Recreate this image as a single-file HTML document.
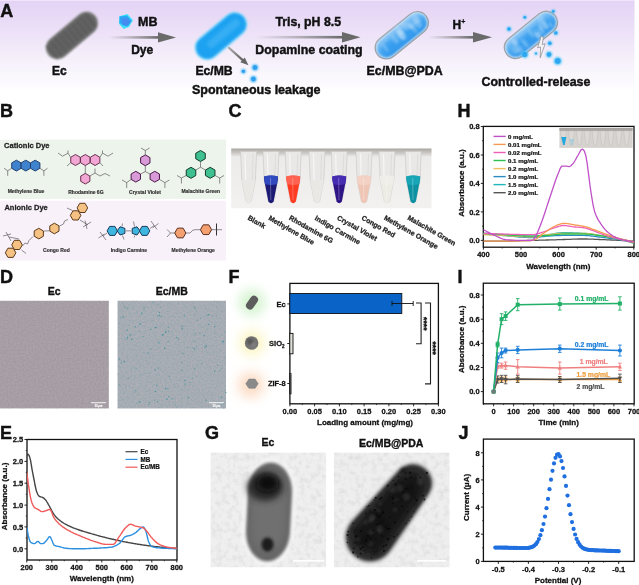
<!DOCTYPE html>
<html><head><meta charset="utf-8"><title>Figure</title>
<style>html,body{margin:0;padding:0;background:#fff;} svg{display:block;}</style></head>
<body><svg width="639" height="585" viewBox="0 0 639 585" font-family="'Liberation Sans', Arial, sans-serif" font-weight="bold">
<defs>
<linearGradient id="gA" x1="0" y1="0" x2="0" y2="1">
 <stop offset="0" stop-color="#e4d3f5"/><stop offset="0.3" stop-color="#ebdff7"/><stop offset="0.65" stop-color="#f5effa"/><stop offset="1" stop-color="#fefdff"/>
</linearGradient>
<linearGradient id="arr" x1="0" y1="0" x2="1" y2="0">
 <stop offset="0" stop-color="#8a8a8a" stop-opacity="0"/><stop offset="1" stop-color="#6a6a6a"/>
</linearGradient>
<linearGradient id="rodPDA" x1="0" y1="0" x2="0" y2="1">
 <stop offset="0" stop-color="#8ec8f6"/><stop offset="0.5" stop-color="#4aa8f0"/><stop offset="1" stop-color="#2f94ea"/>
</linearGradient>
<filter id="blur05" x="-20%" y="-20%" width="140%" height="140%"><feGaussianBlur stdDeviation="0.4"/></filter>
<filter id="blur1" x="-60%" y="-60%" width="220%" height="220%"><feGaussianBlur stdDeviation="0.8"/></filter>
<filter id="blur2" x="-100%" y="-100%" width="300%" height="300%"><feGaussianBlur stdDeviation="1.5"/></filter>
<filter id="blur4" x="-50%" y="-50%" width="200%" height="200%"><feGaussianBlur stdDeviation="4"/></filter>
<filter id="glow" x="-100%" y="-100%" width="300%" height="300%"><feGaussianBlur stdDeviation="6"/></filter>
<filter id="noiseD" x="0" y="0" width="100%" height="100%">
 <feTurbulence type="fractalNoise" baseFrequency="0.9" numOctaves="2" seed="3" result="n"/>
 <feColorMatrix type="matrix" values="0 0 0 0 0.5  0 0 0 0 0.5  0 0 0 0 0.5  0.35 0 0 0 -0.05" in="n"/>
 <feComposite in2="SourceGraphic" operator="in"/>
</filter>
<filter id="temblur" x="-100%" y="-100%" width="300%" height="300%"><feGaussianBlur stdDeviation="3"/></filter>
<clipPath id="clipH"><rect x="483.3" y="126.4" width="150.7" height="120.8"/></clipPath>
<clipPath id="clipE"><rect x="27" y="439.5" width="150" height="120"/></clipPath>
<clipPath id="clipG1"><rect x="210.4" y="452.4" width="116" height="115"/></clipPath>
<clipPath id="clipG2"><rect x="333.7" y="452.4" width="116" height="115"/></clipPath>
</defs>
<rect x="0" y="0" width="639" height="585" fill="#ffffff"/>
<rect x="0" y="1" width="634.5" height="88.5" fill="url(#gA)"/>
<rect x="0" y="0" width="634.5" height="1" fill="#efe4f9"/>
<text x="0.3" y="16.8" font-size="18" fill="#111" stroke="#111" stroke-width="0.45" text-anchor="start" >A</text>
<rect x="41.4" y="23.9" width="61" height="23" rx="11.5" ry="11.5" fill="#858585" filter="url(#blur1)" opacity="1" transform="rotate(-40 71.9 35.4)"/>
<rect x="42.9" y="25.4" width="58" height="20" rx="10.0" ry="10.0" fill="#646464" filter="url(#blur1)" opacity="1" transform="rotate(-40 71.9 35.4)"/>
<g transform="rotate(-40 71.9 35.4)" opacity="0.35" filter="url(#blur1)"><rect x="45.0" y="26.5" width="2.2" height="18" rx="1" fill="#4a4a4a"/><rect x="50.5" y="26.5" width="2.2" height="18" rx="1" fill="#4a4a4a"/><rect x="56.0" y="26.5" width="2.2" height="18" rx="1" fill="#4a4a4a"/><rect x="61.5" y="26.5" width="2.2" height="18" rx="1" fill="#4a4a4a"/><rect x="67.0" y="26.5" width="2.2" height="18" rx="1" fill="#4a4a4a"/><rect x="72.5" y="26.5" width="2.2" height="18" rx="1" fill="#4a4a4a"/><rect x="78.0" y="26.5" width="2.2" height="18" rx="1" fill="#4a4a4a"/><rect x="83.5" y="26.5" width="2.2" height="18" rx="1" fill="#4a4a4a"/><rect x="89.0" y="26.5" width="2.2" height="18" rx="1" fill="#4a4a4a"/><rect x="94.5" y="26.5" width="2.2" height="18" rx="1" fill="#4a4a4a"/></g>
<text x="52.0" y="75.0" font-size="12" fill="#111" stroke="#111" stroke-width="0.42" text-anchor="start" >Ec</text>
<g filter="url(#blur05)"><polygon points="119.3,16.2 127.3,14.1 132.9,20 129.2,26.8 123.7,28.9 119,23.7" fill="#3ee0f8"/>
<polygon points="119.6,16.6 127,15.6 131.8,21 127.6,26.4 122.6,25.2 119.5,23" fill="#29a8f4"/>
<polygon points="121.5,18.5 127.5,18 130.5,22 126.5,26 122.5,24.5" fill="#4a86ee" opacity="0.85"/></g>
<text x="138.0" y="26.3" font-size="12.5" fill="#111" stroke="#111" stroke-width="0.44" text-anchor="start" >MB</text>
<rect x="108" y="36.1" width="50" height="2.6" fill="url(#arr)"/>
<polygon points="158,32.199999999999996 176,37.4 158,42.6" fill="#6a6a6a"/>
<text x="131.2" y="53.8" font-size="12" fill="#111" stroke="#111" stroke-width="0.42" text-anchor="start" >Dye</text>
<rect x="190.5" y="23.5" width="61" height="25" rx="12.5" ry="12.5" fill="#9fe0fb" filter="url(#blur1)" opacity="1" transform="rotate(-40 221 36)"/>
<rect x="191.8" y="24.8" width="58.5" height="22.5" rx="11.25" ry="11.25" fill="#1ca2f1" filter="url(#blur1)" opacity="1" transform="rotate(-40 221 36)"/>
<rect x="203.5" y="29.5" width="40" height="8" rx="4.0" ry="4.0" fill="#46b6f6" filter="url(#blur2)" opacity="0.6" transform="rotate(-40 223.5 33.5)"/>
<linearGradient id="arr2" x1="228" y1="47" x2="244" y2="61" gradientUnits="userSpaceOnUse"><stop offset="0" stop-color="#b0b0b0"/><stop offset="1" stop-color="#5a5a5a"/></linearGradient>
<line x1="228.3" y1="47.3" x2="243" y2="60.4" stroke="url(#arr2)" stroke-width="2.2"/>
<polygon points="248.5,65.2 240.3,62.3 244.7,57.4" fill="#666"/>
<circle cx="243.4" cy="71.3" r="2.3" fill="#31b0f4" filter="url(#blur1)"/>
<circle cx="243.4" cy="71.3" r="1.6" fill="#2f9ef0"/>
<circle cx="255" cy="67.5" r="3.1" fill="#31b0f4" filter="url(#blur1)"/>
<circle cx="255" cy="67.5" r="2.2" fill="#2f9ef0"/>
<circle cx="253.4" cy="79" r="3.1" fill="#31b0f4" filter="url(#blur1)"/>
<circle cx="253.4" cy="79" r="2.2" fill="#2f9ef0"/>
<text x="195.4" y="75.0" font-size="12.2" fill="#111" stroke="#111" stroke-width="0.43" text-anchor="start" >Ec/MB</text>
<text x="192.0" y="93.8" font-size="12.5" fill="#111" stroke="#111" stroke-width="0.44" text-anchor="start" >Spontaneous leakage</text>
<text x="275.4" y="26.3" font-size="12.3" fill="#111" stroke="#111" stroke-width="0.43" text-anchor="start" >Tris, pH 8.5</text>
<rect x="255" y="35.9" width="87" height="2.6" fill="url(#arr)"/>
<polygon points="342,32.0 360.5,37.2 342,42.400000000000006" fill="#6a6a6a"/>
<text x="255.3" y="53.6" font-size="12.4" fill="#111" stroke="#111" stroke-width="0.43" text-anchor="start" >Dopamine coating</text>
<g transform="rotate(-39 401.8 35.3)">
<rect x="370.8" y="24.099999999999998" width="62" height="22.4" rx="11.2" fill="#d0e4f6" stroke="#a3a3a3" stroke-width="1.3"/>
<rect x="372.3" y="25.599999999999998" width="59" height="19.4" rx="9.7" fill="url(#rodPDA)" filter="url(#blur1)"/>
<rect x="376.8" y="31.299999999999997" width="48" height="9" rx="4.5" fill="#2a98ee" opacity="0.5" filter="url(#blur2)"/>
<ellipse cx="401.7" cy="34.4" rx="3.1" ry="5.4" fill="#bfe0fa" opacity="0.35" filter="url(#blur1)"/>
<ellipse cx="415.3" cy="34.0" rx="3.4" ry="3.6" fill="#bfe0fa" opacity="0.35" filter="url(#blur1)"/>
<ellipse cx="415.2" cy="37.3" rx="1.9" ry="5.8" fill="#bfe0fa" opacity="0.35" filter="url(#blur1)"/>
<ellipse cx="409.9" cy="30.2" rx="3.0" ry="5.0" fill="#bfe0fa" opacity="0.35" filter="url(#blur1)"/>
<ellipse cx="403.0" cy="29.4" rx="2.8" ry="5.9" fill="#bfe0fa" opacity="0.35" filter="url(#blur1)"/>
<ellipse cx="420.9" cy="32.9" rx="2.8" ry="3.5" fill="#bfe0fa" opacity="0.35" filter="url(#blur1)"/>
<ellipse cx="402.9" cy="32.1" rx="2.5" ry="3.5" fill="#bfe0fa" opacity="0.35" filter="url(#blur1)"/>
<ellipse cx="400.3" cy="34.0" rx="2.0" ry="5.6" fill="#bfe0fa" opacity="0.35" filter="url(#blur1)"/>
<ellipse cx="421.6" cy="36.4" rx="3.1" ry="4.9" fill="#bfe0fa" opacity="0.35" filter="url(#blur1)"/>
<ellipse cx="413.6" cy="32.3" rx="2.0" ry="3.9" fill="#bfe0fa" opacity="0.35" filter="url(#blur1)"/>
<ellipse cx="402.1" cy="35.5" rx="3.3" ry="5.4" fill="#bfe0fa" opacity="0.35" filter="url(#blur1)"/>
<ellipse cx="394.2" cy="33.8" rx="2.9" ry="5.2" fill="#bfe0fa" opacity="0.35" filter="url(#blur1)"/>
<ellipse cx="381.2" cy="34.4" rx="1.5" ry="5.1" fill="#bfe0fa" opacity="0.35" filter="url(#blur1)"/>
<ellipse cx="423.8" cy="31.4" rx="2.6" ry="5.8" fill="#bfe0fa" opacity="0.35" filter="url(#blur1)"/>
</g>
<text x="366.6" y="75.0" font-size="12.4" fill="#111" stroke="#111" stroke-width="0.43" text-anchor="start" >Ec/MB@PDA</text>
<text x="452.4" y="29.0" font-size="12" fill="#111" stroke="#111" stroke-width="0.42" text-anchor="start" >H</text>
<text x="461.3" y="24.0" font-size="7" fill="#111" stroke="#111" stroke-width="0.25" text-anchor="start" >+</text>
<rect x="428" y="36.0" width="45" height="2.6" fill="url(#arr)"/>
<polygon points="473,32.099999999999994 492,37.3 473,42.5" fill="#6a6a6a"/>
<g transform="rotate(-39 530.9 34.9)">
<rect x="499.9" y="23.7" width="62" height="22.4" rx="11.2" fill="#d0e4f6" stroke="#a3a3a3" stroke-width="1.3"/>
<rect x="501.4" y="25.2" width="59" height="19.4" rx="9.7" fill="url(#rodPDA)" filter="url(#blur1)"/>
<rect x="505.9" y="30.9" width="48" height="9" rx="4.5" fill="#2a98ee" opacity="0.5" filter="url(#blur2)"/>
<ellipse cx="548.3" cy="30.2" rx="3.1" ry="5.5" fill="#bfe0fa" opacity="0.35" filter="url(#blur1)"/>
<ellipse cx="544.3" cy="34.8" rx="2.6" ry="4.2" fill="#bfe0fa" opacity="0.35" filter="url(#blur1)"/>
<ellipse cx="509.4" cy="36.5" rx="3.3" ry="4.5" fill="#bfe0fa" opacity="0.35" filter="url(#blur1)"/>
<ellipse cx="521.0" cy="37.8" rx="2.1" ry="5.3" fill="#bfe0fa" opacity="0.35" filter="url(#blur1)"/>
<ellipse cx="552.7" cy="39.7" rx="1.5" ry="3.1" fill="#bfe0fa" opacity="0.35" filter="url(#blur1)"/>
<ellipse cx="514.0" cy="30.9" rx="2.3" ry="3.4" fill="#bfe0fa" opacity="0.35" filter="url(#blur1)"/>
<ellipse cx="547.7" cy="37.7" rx="1.9" ry="3.0" fill="#bfe0fa" opacity="0.35" filter="url(#blur1)"/>
<ellipse cx="548.6" cy="36.2" rx="1.9" ry="4.4" fill="#bfe0fa" opacity="0.35" filter="url(#blur1)"/>
<ellipse cx="535.9" cy="39.9" rx="2.5" ry="3.7" fill="#bfe0fa" opacity="0.35" filter="url(#blur1)"/>
<ellipse cx="513.2" cy="39.0" rx="3.0" ry="4.1" fill="#bfe0fa" opacity="0.35" filter="url(#blur1)"/>
<ellipse cx="536.9" cy="38.0" rx="3.2" ry="5.4" fill="#bfe0fa" opacity="0.35" filter="url(#blur1)"/>
<ellipse cx="542.1" cy="37.8" rx="2.1" ry="4.6" fill="#bfe0fa" opacity="0.35" filter="url(#blur1)"/>
<ellipse cx="532.0" cy="34.0" rx="2.0" ry="4.7" fill="#bfe0fa" opacity="0.35" filter="url(#blur1)"/>
<ellipse cx="513.3" cy="30.9" rx="2.6" ry="4.3" fill="#bfe0fa" opacity="0.35" filter="url(#blur1)"/>
</g>
<circle cx="509" cy="29" r="2.3" fill="#36c0f8" filter="url(#blur1)"/>
<circle cx="509" cy="29" r="1.7" fill="#2ea6f2"/>
<circle cx="524.8" cy="17.3" r="1.8" fill="#36c0f8" filter="url(#blur1)"/>
<circle cx="524.8" cy="17.3" r="1.4" fill="#2ea6f2"/>
<circle cx="553.3" cy="11.3" r="1.8" fill="#36c0f8" filter="url(#blur1)"/>
<circle cx="553.3" cy="11.3" r="1.4" fill="#2ea6f2"/>
<circle cx="555.8" cy="32.9" r="2.2" fill="#36c0f8" filter="url(#blur1)"/>
<circle cx="555.8" cy="32.9" r="1.7" fill="#2ea6f2"/>
<circle cx="549.8" cy="43.2" r="2.3" fill="#36c0f8" filter="url(#blur1)"/>
<circle cx="549.8" cy="43.2" r="1.7" fill="#2ea6f2"/>
<circle cx="536" cy="53.5" r="1.5" fill="#36c0f8" filter="url(#blur1)"/>
<circle cx="536" cy="53.5" r="1.1" fill="#2ea6f2"/>
<circle cx="549" cy="54.5" r="3" fill="#36c0f8" filter="url(#blur1)"/>
<circle cx="549" cy="54.5" r="2.2" fill="#2ea6f2"/>
<circle cx="557.7" cy="61" r="3.8" fill="#36c0f8" filter="url(#blur1)"/>
<circle cx="557.7" cy="61" r="2.8" fill="#2ea6f2"/>
<circle cx="524.8" cy="54.5" r="3.3" fill="#36c0f8" filter="url(#blur1)"/>
<circle cx="524.8" cy="54.5" r="2.5" fill="#2ea6f2"/>
<circle cx="536" cy="29.5" r="2" fill="none" stroke="#48a8f0" stroke-width="0.8"/>
<polygon points="541.2,36.2 537.6,47.8 540.6,46.9 540.2,57.8 545.2,43.6 542.2,44.6 543.4,37.2" fill="#f4f4f8" stroke="#8a8a8a" stroke-width="0.7" stroke-linejoin="round"/>
<text x="481.6" y="86.4" font-size="12.4" fill="#111" stroke="#111" stroke-width="0.43" text-anchor="start" >Controlled-release</text>
<text x="0.0" y="117.0" font-size="18" fill="#111" stroke="#111" stroke-width="0.45" text-anchor="start" >B</text>
<rect x="0" y="139.6" width="226" height="59.4" fill="#edf4eb"/>
<rect x="0" y="200.8" width="226" height="59.8" fill="#f9f1fa"/>
<text x="4.1" y="148.3" font-size="7.5" fill="#222" stroke="#222" stroke-width="0.26" text-anchor="start" >Cationic Dye</text>
<text x="4.4" y="210.4" font-size="7.5" fill="#222" stroke="#222" stroke-width="0.26" text-anchor="start" >Anionic Dye</text>
<polygon points="16.40,171.00 11.72,168.30 11.72,162.90 16.40,160.20 21.08,162.90 21.08,168.30" fill="#3f83cf" stroke="#1f3f6f" stroke-width="1.0" stroke-linejoin="round"/>
<polygon points="25.80,171.00 21.12,168.30 21.12,162.90 25.80,160.20 30.48,162.90 30.48,168.30" fill="#3f83cf" stroke="#1f3f6f" stroke-width="1.0" stroke-linejoin="round"/>
<polygon points="35.20,171.00 30.52,168.30 30.52,162.90 35.20,160.20 39.88,162.90 39.88,168.30" fill="#3f83cf" stroke="#1f3f6f" stroke-width="1.0" stroke-linejoin="round"/>
<polyline points="11.7,168.3 7.7,170.8" fill="none" stroke="#444" stroke-width="0.6"/>
<polyline points="7.7,170.8 4.1,168.3" fill="none" stroke="#444" stroke-width="0.6"/>
<polyline points="7.7,170.8 7.7,175.8" fill="none" stroke="#444" stroke-width="0.6"/>
<polyline points="39.9,168.3 43.9,170.8" fill="none" stroke="#444" stroke-width="0.6"/>
<polyline points="43.9,170.8 47.5,168.3" fill="none" stroke="#444" stroke-width="0.6"/>
<polyline points="43.9,170.8 43.9,175.8" fill="none" stroke="#444" stroke-width="0.6"/>
<text x="26.0" y="193.4" font-size="5" fill="#333" stroke="#333" stroke-width="0.18" text-anchor="middle" >Methylene Blue</text>
<polygon points="75.50,165.50 70.74,162.75 70.74,157.25 75.50,154.50 80.26,157.25 80.26,162.75" fill="#f2a6d4" stroke="#6a3050" stroke-width="1.0" stroke-linejoin="round"/>
<polygon points="85.30,165.50 80.54,162.75 80.54,157.25 85.30,154.50 90.06,157.25 90.06,162.75" fill="#f2a6d4" stroke="#6a3050" stroke-width="1.0" stroke-linejoin="round"/>
<polygon points="95.10,165.50 90.34,162.75 90.34,157.25 95.10,154.50 99.86,157.25 99.86,162.75" fill="#f2a6d4" stroke="#6a3050" stroke-width="1.0" stroke-linejoin="round"/>
<polygon points="85.30,184.00 80.71,181.35 80.71,176.05 85.30,173.40 89.89,176.05 89.89,181.35" fill="#f2a6d4" stroke="#6a3050" stroke-width="1.0" stroke-linejoin="round"/>
<polyline points="85.3,165.5 85.3,173.4" fill="none" stroke="#444" stroke-width="0.6"/>
<polyline points="70.7,157.3 68.0,153.2 62.5,156.2 58.0,153.0" fill="none" stroke="#444" stroke-width="0.6"/>
<polyline points="68.0,153.2 68.0,150.5" fill="none" stroke="#444" stroke-width="0.6"/>
<polyline points="99.9,157.3 102.5,153.2 108.0,156.2 113.0,153.0" fill="none" stroke="#444" stroke-width="0.6"/>
<polyline points="102.5,153.2 102.5,150.5" fill="none" stroke="#444" stroke-width="0.6"/>
<polyline points="70.7,162.7 67.0,166.0" fill="none" stroke="#444" stroke-width="0.6"/>
<polyline points="99.9,162.7 103.0,166.0" fill="none" stroke="#444" stroke-width="0.6"/>
<polyline points="89.9,176.0 95.0,173.0 95.0,168.5" fill="none" stroke="#444" stroke-width="0.6"/>
<polyline points="95.0,173.0 100.0,176.0 105.0,173.5 110.0,176.0" fill="none" stroke="#444" stroke-width="0.6"/>
<text x="85.9" y="193.5" font-size="5" fill="#333" stroke="#333" stroke-width="0.18" text-anchor="middle" >Rhodamine 6G</text>
<polygon points="145.30,165.70 140.62,163.00 140.62,157.60 145.30,154.90 149.98,157.60 149.98,163.00" fill="#d99ad8" stroke="#4a1a4a" stroke-width="1.0" stroke-linejoin="round"/>
<polygon points="135.80,182.10 131.12,179.40 131.12,174.00 135.80,171.30 140.48,174.00 140.48,179.40" fill="#d99ad8" stroke="#4a1a4a" stroke-width="1.0" stroke-linejoin="round"/>
<polygon points="154.80,182.10 150.12,179.40 150.12,174.00 154.80,171.30 159.48,174.00 159.48,179.40" fill="#d99ad8" stroke="#4a1a4a" stroke-width="1.0" stroke-linejoin="round"/>
<polyline points="145.3,165.7 145.3,171.6 140.5,174.0" fill="none" stroke="#444" stroke-width="0.6"/>
<polyline points="145.3,171.6 150.1,174.0" fill="none" stroke="#444" stroke-width="0.6"/>
<polyline points="145.3,154.9 145.3,150.5" fill="none" stroke="#444" stroke-width="0.6"/>
<polyline points="145.3,150.5 141.0,148.0" fill="none" stroke="#444" stroke-width="0.6"/>
<polyline points="145.3,150.5 149.6,148.0" fill="none" stroke="#444" stroke-width="0.6"/>
<polyline points="131.0,179.5 126.7,182.6 122.0,180.0" fill="none" stroke="#444" stroke-width="0.6"/>
<polyline points="126.7,182.6 126.7,188.0" fill="none" stroke="#444" stroke-width="0.6"/>
<polyline points="159.6,179.5 164.9,182.6 169.5,180.0" fill="none" stroke="#444" stroke-width="0.6"/>
<polyline points="164.9,182.6 164.9,188.0" fill="none" stroke="#444" stroke-width="0.6"/>
<text x="145.0" y="193.5" font-size="5" fill="#333" stroke="#333" stroke-width="0.18" text-anchor="middle" >Crystal Violet</text>
<polygon points="200.50,161.50 195.74,158.75 195.74,153.25 200.50,150.50 205.26,153.25 205.26,158.75" fill="#3fc090" stroke="#143a2a" stroke-width="1.0" stroke-linejoin="round"/>
<polygon points="191.00,178.30 186.24,175.55 186.24,170.05 191.00,167.30 195.76,170.05 195.76,175.55" fill="#3fc090" stroke="#143a2a" stroke-width="1.0" stroke-linejoin="round"/>
<polygon points="210.20,178.30 205.44,175.55 205.44,170.05 210.20,167.30 214.96,170.05 214.96,175.55" fill="#3fc090" stroke="#143a2a" stroke-width="1.0" stroke-linejoin="round"/>
<polyline points="200.5,161.5 200.5,167.2 195.8,170.0" fill="none" stroke="#444" stroke-width="0.6"/>
<polyline points="200.5,167.2 205.4,170.0" fill="none" stroke="#444" stroke-width="0.6"/>
<polyline points="186.2,175.5 181.4,178.0 177.0,175.5" fill="none" stroke="#444" stroke-width="0.6"/>
<polyline points="181.4,178.0 181.4,183.5" fill="none" stroke="#444" stroke-width="0.6"/>
<polyline points="215.0,175.5 219.7,178.0 224.0,175.5" fill="none" stroke="#444" stroke-width="0.6"/>
<polyline points="219.7,178.0 219.7,183.5" fill="none" stroke="#444" stroke-width="0.6"/>
<text x="200.7" y="193.3" font-size="5" fill="#333" stroke="#333" stroke-width="0.18" text-anchor="middle" >Malachite Green</text>
<polygon points="15.90,252.80 13.25,257.39 7.95,257.39 5.30,252.80 7.95,248.21 13.25,248.21" fill="#f6c283" stroke="#5a3a1a" stroke-width="1.0" stroke-linejoin="round"/>
<polygon points="19.65,249.49 14.35,249.49 11.70,244.90 14.35,240.31 19.65,240.31 22.30,244.90" fill="#f6c283" stroke="#5a3a1a" stroke-width="1.0" stroke-linejoin="round"/>
<polyline points="19.0,239.0 9.0,237.0" fill="none" stroke="#444" stroke-width="0.6"/>
<polyline points="6.0,232.0 11.0,241.0" fill="none" stroke="#444" stroke-width="0.6"/>
<polyline points="3.0,236.0 11.0,234.0" fill="none" stroke="#444" stroke-width="0.6"/>
<polyline points="22.5,246.0 25.0,243.0 27.5,244.0 29.0,240.5 33.0,236.5" fill="none" stroke="#444" stroke-width="0.6"/>
<polygon points="43.39,236.25 38.80,238.90 34.21,236.25 34.21,230.95 38.80,228.30 43.39,230.95" fill="#f6c283" stroke="#5a3a1a" stroke-width="1.0" stroke-linejoin="round"/>
<polyline points="43.9,231.0 49.3,230.8" fill="none" stroke="#444" stroke-width="0.6"/>
<polygon points="58.99,231.15 54.40,233.80 49.81,231.15 49.81,225.85 54.40,223.20 58.99,225.85" fill="#f6c283" stroke="#5a3a1a" stroke-width="1.0" stroke-linejoin="round"/>
<polyline points="59.5,226.0 63.5,224.0 64.5,221.0 68.0,219.5" fill="none" stroke="#444" stroke-width="0.6"/>
<polygon points="80.90,215.40 78.25,219.99 72.95,219.99 70.30,215.40 72.95,210.81 78.25,210.81" fill="#f6c283" stroke="#5a3a1a" stroke-width="1.0" stroke-linejoin="round"/>
<polygon points="85.05,212.49 79.75,212.49 77.10,207.90 79.75,203.31 85.05,203.31 87.70,207.90" fill="#f6c283" stroke="#5a3a1a" stroke-width="1.0" stroke-linejoin="round"/>
<polyline points="72.5,210.5 67.0,208.0" fill="none" stroke="#444" stroke-width="0.6"/>
<polyline points="21.5,250.0 26.0,253.5" fill="none" stroke="#444" stroke-width="0.6"/>
<polyline points="80.0,220.0 88.0,225.0" fill="none" stroke="#444" stroke-width="0.6"/>
<polyline points="85.0,220.5 87.0,229.0" fill="none" stroke="#444" stroke-width="0.6"/>
<polyline points="83.0,227.0 91.0,222.0" fill="none" stroke="#444" stroke-width="0.6"/>
<text x="56.4" y="251.7" font-size="5" fill="#333" stroke="#333" stroke-width="0.18" text-anchor="middle" >Congo Red</text>
<polygon points="117.50,230.90 114.90,235.40 109.70,235.40 107.10,230.90 109.70,226.40 114.90,226.40" fill="#3fb6e0" stroke="#1a3a5a" stroke-width="1.0" stroke-linejoin="round"/>
<polygon points="117.10,230.90 120.07,226.81 124.88,228.37 124.88,233.43 120.07,234.99" fill="#3fb6e0" stroke="#1a3a5a" stroke-width="1.0" stroke-linejoin="round"/>
<polygon points="140.00,230.90 137.03,234.99 132.22,233.43 132.22,228.37 137.03,226.81" fill="#3fb6e0" stroke="#1a3a5a" stroke-width="1.0" stroke-linejoin="round"/>
<polygon points="149.80,230.90 147.20,235.40 142.00,235.40 139.40,230.90 142.00,226.40 147.20,226.40" fill="#3fb6e0" stroke="#1a3a5a" stroke-width="1.0" stroke-linejoin="round"/>
<polyline points="125.7,230.9 131.4,230.9" fill="none" stroke="#444" stroke-width="0.6"/>
<polyline points="107.0,233.0 103.0,236.0" fill="none" stroke="#444" stroke-width="0.6"/>
<polyline points="100.0,232.0 106.0,240.0" fill="none" stroke="#444" stroke-width="0.6"/>
<polyline points="98.5,238.0 104.5,234.0" fill="none" stroke="#444" stroke-width="0.6"/>
<polyline points="150.0,228.5 154.0,225.5" fill="none" stroke="#444" stroke-width="0.6"/>
<polyline points="151.0,221.0 157.0,229.5" fill="none" stroke="#444" stroke-width="0.6"/>
<polyline points="152.5,228.0 158.5,223.5" fill="none" stroke="#444" stroke-width="0.6"/>
<polyline points="122.0,226.5 122.5,223.5" fill="none" stroke="#444" stroke-width="0.6"/>
<polyline points="122.5,235.5 124.0,239.5" fill="none" stroke="#444" stroke-width="0.6"/>
<polyline points="134.5,226.5 133.5,221.5" fill="none" stroke="#444" stroke-width="0.6"/>
<polyline points="135.0,235.5 134.0,237.5" fill="none" stroke="#444" stroke-width="0.6"/>
<text x="128.9" y="251.6" font-size="5" fill="#333" stroke="#333" stroke-width="0.18" text-anchor="middle" >Indigo Carmine</text>
<polygon points="185.90,233.00 183.10,237.85 177.50,237.85 174.70,233.00 177.50,228.15 183.10,228.15" fill="#f5a070" stroke="#5a3020" stroke-width="1.0" stroke-linejoin="round"/>
<polygon points="211.60,229.70 208.80,234.55 203.20,234.55 200.40,229.70 203.20,224.85 208.80,224.85" fill="#f5a070" stroke="#5a3020" stroke-width="1.0" stroke-linejoin="round"/>
<polyline points="174.7,233.0 170.5,233.0" fill="none" stroke="#444" stroke-width="0.6"/>
<polyline points="170.5,233.0 167.0,229.5" fill="none" stroke="#444" stroke-width="0.6"/>
<polyline points="170.5,233.0 167.0,237.0" fill="none" stroke="#444" stroke-width="0.6"/>
<polyline points="185.9,233.0 190.0,233.0 193.0,230.0 196.0,229.7 200.4,229.7" fill="none" stroke="#444" stroke-width="0.6"/>
<polyline points="211.6,229.7 216.0,229.7" fill="none" stroke="#444" stroke-width="0.6"/>
<polyline points="216.5,223.5 216.5,235.5" fill="none" stroke="#333" stroke-width="1.0"/>
<polyline points="216.0,229.7 222.0,229.7" fill="none" stroke="#444" stroke-width="0.6"/>
<text x="193.2" y="251.6" font-size="5" fill="#333" stroke="#333" stroke-width="0.18" text-anchor="middle" >Methylene Orange</text>
<text x="228.5" y="117.0" font-size="18" fill="#111" stroke="#111" stroke-width="0.45" text-anchor="start" >C</text>
<linearGradient id="photoC" x1="0" y1="0" x2="0" y2="1"><stop offset="0" stop-color="#aaa6a2"/><stop offset="0.06" stop-color="#c4c0bc"/><stop offset="0.14" stop-color="#ecebea"/><stop offset="1" stop-color="#f2f1f0"/></linearGradient>
<rect x="231.2" y="148.5" width="200.3" height="59.8" fill="url(#photoC)"/>
<path d="M240.6,151.5 L256.6,151.5 L255.4,180 L251.2,201.5 Q248.6,204.3 246.0,201.5 L241.79999999999998,180 Z" fill="#e9e8e6" stroke="#cdcac7" stroke-width="0.7"/>
<line x1="245.1" y1="154" x2="246.1" y2="198" stroke="#f6f6f5" stroke-width="1.2"/>
<line x1="253.1" y1="154" x2="252.1" y2="190" stroke="#d6d4d2" stroke-width="0.6"/>
<path d="M241.79999999999998,180 L255.4,180 L251.2,201.5 Q248.6,204.8 246.0,201.5 Z" fill="#e9e8e5"/>
<path d="M263,151.5 L279,151.5 L277.8,180 L273.6,201.5 Q271,204.3 268.4,201.5 L264.2,180 Z" fill="#e9e8e6" stroke="#cdcac7" stroke-width="0.7"/>
<line x1="267.5" y1="154" x2="268.5" y2="198" stroke="#f6f6f5" stroke-width="1.2"/>
<line x1="275.5" y1="154" x2="274.5" y2="190" stroke="#d6d4d2" stroke-width="0.6"/>
<path d="M264,176.5 Q271,174.5 278,176.5 L277.8,180 L273.6,201.5 Q271,204.8 268.4,201.5 L264.2,180 Z" fill="#1c1a74"/>
<path d="M264,176.5 Q271,174.5 278,176.5 L277.2,184 Q271,186 264.8,184 Z" fill="#3552cc" opacity="0.85"/>
<line x1="270.5" y1="178" x2="270.8" y2="200" stroke="#ffffff" stroke-width="0.6" opacity="0.45"/>
<path d="M285.2,151.5 L301.2,151.5 L300.0,180 L295.8,201.5 Q293.2,204.3 290.59999999999997,201.5 L286.4,180 Z" fill="#e9e8e6" stroke="#cdcac7" stroke-width="0.7"/>
<line x1="289.7" y1="154" x2="290.7" y2="198" stroke="#f6f6f5" stroke-width="1.2"/>
<line x1="297.7" y1="154" x2="296.7" y2="190" stroke="#d6d4d2" stroke-width="0.6"/>
<path d="M286.2,176.5 Q293.2,174.5 300.2,176.5 L300.0,180 L295.8,201.5 Q293.2,204.8 290.59999999999997,201.5 L286.4,180 Z" fill="#ff3b22"/>
<path d="M286.2,176.5 Q293.2,174.5 300.2,176.5 L299.4,184 Q293.2,186 287.0,184 Z" fill="#ff6a58" opacity="0.85"/>
<line x1="292.7" y1="178" x2="293.0" y2="200" stroke="#ffffff" stroke-width="0.6" opacity="0.45"/>
<path d="M309,151.5 L325,151.5 L323.8,180 L319.6,201.5 Q317,204.3 314.4,201.5 L310.2,180 Z" fill="#e9e8e6" stroke="#cdcac7" stroke-width="0.7"/>
<line x1="313.5" y1="154" x2="314.5" y2="198" stroke="#f6f6f5" stroke-width="1.2"/>
<line x1="321.5" y1="154" x2="320.5" y2="190" stroke="#d6d4d2" stroke-width="0.6"/>
<path d="M310.2,180 L323.8,180 L319.6,201.5 Q317,204.8 314.4,201.5 Z" fill="#e9e8e5"/>
<path d="M331.2,151.5 L347.2,151.5 L346.0,180 L341.8,201.5 Q339.2,204.3 336.59999999999997,201.5 L332.4,180 Z" fill="#e9e8e6" stroke="#cdcac7" stroke-width="0.7"/>
<line x1="335.7" y1="154" x2="336.7" y2="198" stroke="#f6f6f5" stroke-width="1.2"/>
<line x1="343.7" y1="154" x2="342.7" y2="190" stroke="#d6d4d2" stroke-width="0.6"/>
<path d="M332.2,176.5 Q339.2,174.5 346.2,176.5 L346.0,180 L341.8,201.5 Q339.2,204.8 336.59999999999997,201.5 L332.4,180 Z" fill="#2e1486"/>
<path d="M332.2,176.5 Q339.2,174.5 346.2,176.5 L345.4,184 Q339.2,186 333.0,184 Z" fill="#4a30b8" opacity="0.85"/>
<line x1="338.7" y1="178" x2="339.0" y2="200" stroke="#ffffff" stroke-width="0.6" opacity="0.45"/>
<path d="M356,151.5 L372,151.5 L370.8,180 L366.6,201.5 Q364,204.3 361.4,201.5 L357.2,180 Z" fill="#e9e8e6" stroke="#cdcac7" stroke-width="0.7"/>
<line x1="360.5" y1="154" x2="361.5" y2="198" stroke="#f6f6f5" stroke-width="1.2"/>
<line x1="368.5" y1="154" x2="367.5" y2="190" stroke="#d6d4d2" stroke-width="0.6"/>
<path d="M357,176.5 Q364,174.5 371,176.5 L370.8,180 L366.6,201.5 Q364,204.8 361.4,201.5 L357.2,180 Z" fill="#efc6b6"/>
<path d="M357,176.5 Q364,174.5 371,176.5 L370.2,184 Q364,186 357.8,184 Z" fill="#f3d4c8" opacity="0.85"/>
<line x1="363.5" y1="178" x2="363.8" y2="200" stroke="#ffffff" stroke-width="0.6" opacity="0.45"/>
<path d="M379,151.5 L395,151.5 L393.8,180 L389.6,201.5 Q387,204.3 384.4,201.5 L380.2,180 Z" fill="#e9e8e6" stroke="#cdcac7" stroke-width="0.7"/>
<line x1="383.5" y1="154" x2="384.5" y2="198" stroke="#f6f6f5" stroke-width="1.2"/>
<line x1="391.5" y1="154" x2="390.5" y2="190" stroke="#d6d4d2" stroke-width="0.6"/>
<path d="M380,176.5 Q387,174.5 394,176.5 L393.8,180 L389.6,201.5 Q387,204.8 384.4,201.5 L380.2,180 Z" fill="#ecebe4"/>
<path d="M380,176.5 Q387,174.5 394,176.5 L393.2,184 Q387,186 380.8,184 Z" fill="#f0efea" opacity="0.85"/>
<line x1="386.5" y1="178" x2="386.8" y2="200" stroke="#ffffff" stroke-width="0.6" opacity="0.45"/>
<path d="M405.2,151.5 L421.2,151.5 L420.0,180 L415.8,201.5 Q413.2,204.3 410.59999999999997,201.5 L406.4,180 Z" fill="#e9e8e6" stroke="#cdcac7" stroke-width="0.7"/>
<line x1="409.7" y1="154" x2="410.7" y2="198" stroke="#f6f6f5" stroke-width="1.2"/>
<line x1="417.7" y1="154" x2="416.7" y2="190" stroke="#d6d4d2" stroke-width="0.6"/>
<path d="M406.2,176.5 Q413.2,174.5 420.2,176.5 L420.0,180 L415.8,201.5 Q413.2,204.8 410.59999999999997,201.5 L406.4,180 Z" fill="#0e92a2"/>
<path d="M406.2,176.5 Q413.2,174.5 420.2,176.5 L419.4,184 Q413.2,186 407.0,184 Z" fill="#1aa8ba" opacity="0.85"/>
<line x1="412.7" y1="178" x2="413.0" y2="200" stroke="#ffffff" stroke-width="0.6" opacity="0.45"/>
<text x="247.2" y="219.2" font-size="7" fill="#222" stroke="#222" stroke-width="0.25" transform="rotate(29.5 247.2 219.2)">Blank</text>
<text x="267.9" y="219.6" font-size="7" fill="#222" stroke="#222" stroke-width="0.25" transform="rotate(29.5 267.9 219.6)">Methylene Blue</text>
<text x="288.5" y="219.2" font-size="7" fill="#222" stroke="#222" stroke-width="0.25" transform="rotate(29.5 288.5 219.2)">Rhodamine 6G</text>
<text x="314.3" y="219.6" font-size="7" fill="#222" stroke="#222" stroke-width="0.25" transform="rotate(29.5 314.3 219.6)">Indigo Carmine</text>
<text x="336.6" y="219.2" font-size="7" fill="#222" stroke="#222" stroke-width="0.25" transform="rotate(29.5 336.6 219.2)">Crystal Violet</text>
<text x="361" y="219.2" font-size="7" fill="#222" stroke="#222" stroke-width="0.25" transform="rotate(29.5 361 219.2)">Congo Red</text>
<text x="383.5" y="219.2" font-size="7" fill="#222" stroke="#222" stroke-width="0.25" transform="rotate(29.5 383.5 219.2)">Methylene Orange</text>
<text x="407" y="219.2" font-size="7" fill="#222" stroke="#222" stroke-width="0.25" transform="rotate(29.5 407 219.2)">Malachite Green</text>
<text x="457.5" y="117.0" font-size="18" fill="#111" stroke="#111" stroke-width="0.45" text-anchor="start" >H</text>
<rect x="483.3" y="126.4" width="150.7" height="120.79999999999998" fill="none" stroke="#111" stroke-width="1.3"/>
<line x1="483.4" y1="247.2" x2="483.4" y2="249.7" stroke="#111" stroke-width="0.9"/>
<text x="483.4" y="257.3" font-size="7.5" fill="#111" stroke="#111" stroke-width="0.26" text-anchor="middle" >400</text>
<line x1="521.0" y1="247.2" x2="521.0" y2="249.7" stroke="#111" stroke-width="0.9"/>
<text x="521.0" y="257.3" font-size="7.5" fill="#111" stroke="#111" stroke-width="0.26" text-anchor="middle" >500</text>
<line x1="558.6" y1="247.2" x2="558.6" y2="249.7" stroke="#111" stroke-width="0.9"/>
<text x="558.6" y="257.3" font-size="7.5" fill="#111" stroke="#111" stroke-width="0.26" text-anchor="middle" >600</text>
<line x1="596.2" y1="247.2" x2="596.2" y2="249.7" stroke="#111" stroke-width="0.9"/>
<text x="596.2" y="257.3" font-size="7.5" fill="#111" stroke="#111" stroke-width="0.26" text-anchor="middle" >700</text>
<line x1="633.8" y1="247.2" x2="633.8" y2="249.7" stroke="#111" stroke-width="0.9"/>
<text x="633.8" y="257.3" font-size="7.5" fill="#111" stroke="#111" stroke-width="0.26" text-anchor="middle" >800</text>
<line x1="480.8" y1="240.4" x2="483.3" y2="240.4" stroke="#111" stroke-width="0.9"/>
<text x="479.6" y="243.1" font-size="7.5" fill="#111" stroke="#111" stroke-width="0.26" text-anchor="end" >0.0</text>
<line x1="480.8" y1="211.9" x2="483.3" y2="211.9" stroke="#111" stroke-width="0.9"/>
<text x="479.6" y="214.6" font-size="7.5" fill="#111" stroke="#111" stroke-width="0.26" text-anchor="end" >0.2</text>
<line x1="480.8" y1="183.4" x2="483.3" y2="183.4" stroke="#111" stroke-width="0.9"/>
<text x="479.6" y="186.1" font-size="7.5" fill="#111" stroke="#111" stroke-width="0.26" text-anchor="end" >0.4</text>
<line x1="480.8" y1="155.0" x2="483.3" y2="155.0" stroke="#111" stroke-width="0.9"/>
<text x="479.6" y="157.7" font-size="7.5" fill="#111" stroke="#111" stroke-width="0.26" text-anchor="end" >0.6</text>
<line x1="480.8" y1="126.5" x2="483.3" y2="126.5" stroke="#111" stroke-width="0.9"/>
<text x="479.6" y="129.2" font-size="7.5" fill="#111" stroke="#111" stroke-width="0.26" text-anchor="end" >0.8</text>
<line x1="502.2" y1="247.2" x2="502.2" y2="248.5" stroke="#111" stroke-width="0.7"/>
<line x1="539.8" y1="247.2" x2="539.8" y2="248.5" stroke="#111" stroke-width="0.7"/>
<line x1="577.4" y1="247.2" x2="577.4" y2="248.5" stroke="#111" stroke-width="0.7"/>
<line x1="615.0" y1="247.2" x2="615.0" y2="248.5" stroke="#111" stroke-width="0.7"/>
<line x1="482.0" y1="226.2" x2="483.3" y2="226.2" stroke="#111" stroke-width="0.7"/>
<line x1="482.0" y1="197.7" x2="483.3" y2="197.7" stroke="#111" stroke-width="0.7"/>
<line x1="482.0" y1="169.2" x2="483.3" y2="169.2" stroke="#111" stroke-width="0.7"/>
<line x1="482.0" y1="140.7" x2="483.3" y2="140.7" stroke="#111" stroke-width="0.7"/>
<text x="558.3" y="269.4" font-size="8" fill="#111" stroke="#111" stroke-width="0.28" text-anchor="middle" >Wavelength (nm)</text>
<text x="464.0" y="183.0" font-size="8" fill="#111" stroke="#111" stroke-width="0.28" text-anchor="middle" transform="rotate(-90 464.0 183.0)">Absorbance (a.u.)</text>
<rect x="559.4" y="127.9" width="73.2" height="20" fill="#d6d2ce"/>
<rect x="559.4" y="127.9" width="73.2" height="3" fill="#a9a5a1"/>
<path d="M560.5,131 L566.5,131 L564.7,145 L562.3,145 Z" fill="#dcd9d6" stroke="#c2beba" stroke-width="0.5"/>
<path d="M568.4,131 L574.4,131 L572.6,145 L570.1999999999999,145 Z" fill="#dcd9d6" stroke="#c2beba" stroke-width="0.5"/>
<path d="M576.3,131 L582.3,131 L580.5,145 L578.0999999999999,145 Z" fill="#dcd9d6" stroke="#c2beba" stroke-width="0.5"/>
<path d="M584.2,131 L590.2,131 L588.4000000000001,145 L586.0,145 Z" fill="#dcd9d6" stroke="#c2beba" stroke-width="0.5"/>
<path d="M592.1,131 L598.1,131 L596.3000000000001,145 L593.9,145 Z" fill="#dcd9d6" stroke="#c2beba" stroke-width="0.5"/>
<path d="M600.0,131 L606.0,131 L604.2,145 L601.8,145 Z" fill="#dcd9d6" stroke="#c2beba" stroke-width="0.5"/>
<path d="M607.9,131 L613.9,131 L612.1,145 L609.6999999999999,145 Z" fill="#dcd9d6" stroke="#c2beba" stroke-width="0.5"/>
<path d="M615.8,131 L621.8,131 L620.0,145 L617.5999999999999,145 Z" fill="#dcd9d6" stroke="#c2beba" stroke-width="0.5"/>
<path d="M623.7,131 L629.7,131 L627.9000000000001,145 L625.5,145 Z" fill="#dcd9d6" stroke="#c2beba" stroke-width="0.5"/>
<path d="M561.2,137 L566.4,137 L564.6,145 L563.2,145 Z" fill="#20a8e0"/>
<path d="M569.3,139 L574.2,139 L572.5,145 L571,145 Z" fill="#8cc8e0" opacity="0.6"/>
<g clip-path="url(#clipH)">
<polyline points="483.4,241.1 484.9,241.1 486.4,241.1 487.9,241.1 489.4,241.1 490.9,241.1 492.4,241.1 493.9,241.1 495.4,241.1 496.9,241.1 498.4,241.1 499.9,241.1 501.4,241.1 503.0,241.1 504.5,241.1 506.0,241.1 507.5,241.1 509.0,241.0 510.5,241.0 512.0,241.0 513.5,241.0 515.0,240.9 516.5,240.9 518.0,240.8 519.5,240.8 521.0,240.7 522.5,240.7 524.0,240.6 525.5,240.6 527.0,240.5 528.5,240.5 530.0,240.5 531.5,240.4 533.0,240.4 534.5,240.3 536.0,240.3 537.5,240.3 539.0,240.2 540.6,240.2 542.1,240.1 543.6,240.1 545.1,240.1 546.6,240.0 548.1,240.0 549.6,239.9 551.1,239.9 552.6,239.9 554.1,239.8 555.6,239.8 557.1,239.7 558.6,239.7 560.1,239.6 561.6,239.6 563.1,239.5 564.6,239.5 566.1,239.4 567.6,239.4 569.1,239.3 570.6,239.3 572.1,239.2 573.6,239.1 575.1,239.1 576.6,239.1 578.2,239.0 579.7,239.0 581.2,239.0 582.7,239.0 584.2,239.0 585.7,239.0 587.2,239.0 588.7,239.1 590.2,239.1 591.7,239.2 593.2,239.2 594.7,239.3 596.2,239.4 597.7,239.4 599.2,239.5 600.7,239.6 602.2,239.6 603.7,239.7 605.2,239.7 606.7,239.8 608.2,239.9 609.7,239.9 611.2,240.0 612.7,240.1 614.2,240.2 615.8,240.2 617.3,240.3 618.8,240.4 620.3,240.4 621.8,240.5 623.3,240.6 624.8,240.7 626.3,240.7 627.8,240.8 629.3,240.9 630.8,241.0 632.3,241.0 633.8,241.1" fill="none" stroke="#555555" stroke-width="1.3" stroke-linejoin="round" />
<polyline points="483.4,233.3 484.9,233.4 486.4,233.5 487.9,233.6 489.4,233.8 490.9,233.9 492.4,234.0 493.9,234.1 495.4,234.2 496.9,234.4 498.4,234.5 499.9,234.6 501.4,234.7 503.0,234.7 504.5,234.8 506.0,234.9 507.5,235.0 509.0,235.1 510.5,235.2 512.0,235.3 513.5,235.4 515.0,235.5 516.5,235.6 518.0,235.7 519.5,235.8 521.0,235.8 522.5,235.9 524.0,236.0 525.5,236.0 527.0,236.1 528.5,236.1 530.0,236.1 531.5,236.1 533.0,236.1 534.5,236.1 536.0,236.0 537.5,235.9 539.0,235.7 540.6,235.5 542.1,235.3 543.6,235.2 545.1,235.0 546.6,234.8 548.1,234.6 549.6,234.4 551.1,234.2 552.6,233.9 554.1,233.7 555.6,233.4 557.1,233.2 558.6,233.0 560.1,232.8 561.6,232.7 563.1,232.6 564.6,232.6 566.1,232.6 567.6,232.6 569.1,232.6 570.6,232.7 572.1,232.7 573.6,232.8 575.1,232.9 576.6,232.9 578.2,233.0 579.7,233.1 581.2,233.2 582.7,233.3 584.2,233.4 585.7,233.5 587.2,233.6 588.7,233.8 590.2,234.0 591.7,234.2 593.2,234.4 594.7,234.7 596.2,234.9 597.7,235.1 599.2,235.4 600.7,235.6 602.2,235.9 603.7,236.1 605.2,236.4 606.7,236.6 608.2,236.9 609.7,237.1 611.2,237.4 612.7,237.7 614.2,238.0 615.8,238.3 617.3,238.6 618.8,238.9 620.3,239.2 621.8,239.5 623.3,239.8 624.8,240.1 626.3,240.4 627.8,240.7 629.3,241.0 630.8,241.2 632.3,241.5 633.8,241.8" fill="none" stroke="#20b8b8" stroke-width="1.3" stroke-linejoin="round" />
<polyline points="483.4,234.0 484.9,234.1 486.4,234.2 487.9,234.3 489.4,234.5 490.9,234.6 492.4,234.7 493.9,234.8 495.4,234.9 496.9,235.0 498.4,235.1 499.9,235.2 501.4,235.4 503.0,235.5 504.5,235.6 506.0,235.7 507.5,235.9 509.0,236.0 510.5,236.1 512.0,236.3 513.5,236.4 515.0,236.6 516.5,236.7 518.0,236.8 519.5,237.0 521.0,237.1 522.5,237.2 524.0,237.3 525.5,237.4 527.0,237.4 528.5,237.5 530.0,237.5 531.5,237.5 533.0,237.5 534.5,237.5 536.0,237.4 537.5,237.2 539.0,237.0 540.6,236.9 542.1,236.7 543.6,236.5 545.1,236.3 546.6,236.2 548.1,236.1 549.6,236.0 551.1,235.9 552.6,235.8 554.1,235.7 555.6,235.7 557.1,235.6 558.6,235.5 560.1,235.5 561.6,235.4 563.1,235.4 564.6,235.4 566.1,235.4 567.6,235.4 569.1,235.4 570.6,235.4 572.1,235.4 573.6,235.4 575.1,235.4 576.6,235.4 578.2,235.4 579.7,235.4 581.2,235.4 582.7,235.4 584.2,235.4 585.7,235.5 587.2,235.6 588.7,235.7 590.2,235.8 591.7,236.0 593.2,236.2 594.7,236.3 596.2,236.5 597.7,236.8 599.2,237.0 600.7,237.2 602.2,237.4 603.7,237.6 605.2,237.7 606.7,237.9 608.2,238.1 609.7,238.3 611.2,238.5 612.7,238.7 614.2,238.9 615.8,239.2 617.3,239.4 618.8,239.6 620.3,239.8 621.8,240.0 623.3,240.3 624.8,240.5 626.3,240.7 627.8,240.9 629.3,241.2 630.8,241.4 632.3,241.6 633.8,241.8" fill="none" stroke="#2a8cc0" stroke-width="1.3" stroke-linejoin="round" />
<polyline points="483.4,234.7 484.9,234.8 486.4,234.8 487.9,234.9 489.4,234.9 490.9,235.0 492.4,235.0 493.9,235.1 495.4,235.1 496.9,235.2 498.4,235.3 499.9,235.3 501.4,235.4 503.0,235.4 504.5,235.5 506.0,235.6 507.5,235.7 509.0,235.8 510.5,235.9 512.0,236.0 513.5,236.1 515.0,236.1 516.5,236.2 518.0,236.3 519.5,236.4 521.0,236.5 522.5,236.6 524.0,236.6 525.5,236.7 527.0,236.8 528.5,236.8 530.0,236.8 531.5,236.8 533.0,236.8 534.5,236.7 536.0,236.6 537.5,236.4 539.0,236.1 540.6,235.8 542.1,235.5 543.6,235.3 545.1,235.0 546.6,234.8 548.1,234.6 549.6,234.5 551.1,234.3 552.6,234.1 554.1,233.9 555.6,233.8 557.1,233.6 558.6,233.5 560.1,233.4 561.6,233.3 563.1,233.3 564.6,233.3 566.1,233.3 567.6,233.3 569.1,233.3 570.6,233.3 572.1,233.3 573.6,233.3 575.1,233.3 576.6,233.3 578.2,233.3 579.7,233.3 581.2,233.3 582.7,233.3 584.2,233.3 585.7,233.4 587.2,233.5 588.7,233.6 590.2,233.8 591.7,234.0 593.2,234.3 594.7,234.5 596.2,234.8 597.7,235.1 599.2,235.3 600.7,235.6 602.2,235.9 603.7,236.1 605.2,236.4 606.7,236.6 608.2,236.9 609.7,237.1 611.2,237.4 612.7,237.7 614.2,238.0 615.8,238.3 617.3,238.6 618.8,238.9 620.3,239.2 621.8,239.5 623.3,239.8 624.8,240.1 626.3,240.4 627.8,240.7 629.3,241.0 630.8,241.2 632.3,241.5 633.8,241.8" fill="none" stroke="#f0c060" stroke-width="1.3" stroke-linejoin="round" />
<polyline points="483.4,233.3 484.9,233.4 486.4,233.5 487.9,233.6 489.4,233.8 490.9,233.9 492.4,234.0 493.9,234.1 495.4,234.2 496.9,234.4 498.4,234.5 499.9,234.6 501.4,234.7 503.0,234.7 504.5,234.8 506.0,234.9 507.5,235.0 509.0,235.1 510.5,235.2 512.0,235.3 513.5,235.4 515.0,235.5 516.5,235.6 518.0,235.7 519.5,235.8 521.0,235.8 522.5,235.9 524.0,236.0 525.5,236.0 527.0,236.1 528.5,236.1 530.0,236.1 531.5,236.1 533.0,236.1 534.5,236.1 536.0,236.1 537.5,236.0 539.0,235.9 540.6,235.8 542.1,235.8 543.6,235.7 545.1,235.6 546.6,235.5 548.1,235.4 549.6,235.2 551.1,235.1 552.6,234.9 554.1,234.8 555.6,234.6 557.1,234.4 558.6,234.3 560.1,234.2 561.6,234.1 563.1,234.0 564.6,234.0 566.1,234.0 567.6,234.0 569.1,234.0 570.6,234.0 572.1,234.0 573.6,234.0 575.1,234.0 576.6,234.0 578.2,234.0 579.7,234.0 581.2,234.0 582.7,234.0 584.2,234.0 585.7,234.0 587.2,234.1 588.7,234.2 590.2,234.4 591.7,234.5 593.2,234.7 594.7,234.9 596.2,235.1 597.7,235.3 599.2,235.5 600.7,235.7 602.2,235.9 603.7,236.1 605.2,236.3 606.7,236.6 608.2,236.8 609.7,237.1 611.2,237.4 612.7,237.7 614.2,238.0 615.8,238.3 617.3,238.6 618.8,239.0 620.3,239.3 621.8,239.7 623.3,240.1 624.8,240.6 626.3,241.0 627.8,241.5 629.3,241.9 630.8,242.4 632.3,242.8 633.8,243.2" fill="none" stroke="#30c050" stroke-width="1.3" stroke-linejoin="round" />
<polyline points="483.4,233.3 484.9,233.3 486.4,233.4 487.9,233.5 489.4,233.5 490.9,233.6 492.4,233.6 493.9,233.7 495.4,233.8 496.9,233.8 498.4,233.9 499.9,233.9 501.4,234.0 503.0,234.0 504.5,234.1 506.0,234.1 507.5,234.2 509.0,234.2 510.5,234.3 512.0,234.3 513.5,234.3 515.0,234.4 516.5,234.4 518.0,234.5 519.5,234.5 521.0,234.6 522.5,234.6 524.0,234.6 525.5,234.6 527.0,234.7 528.5,234.7 530.0,234.7 531.5,234.7 533.0,234.7 534.5,234.5 536.0,234.2 537.5,233.8 539.0,233.4 540.6,232.8 542.1,232.3 543.6,231.9 545.1,231.4 546.6,230.8 548.1,230.2 549.6,229.5 551.1,228.9 552.6,228.3 554.1,227.8 555.6,227.4 557.1,226.9 558.6,226.5 560.1,226.0 561.6,225.7 563.1,225.5 564.6,225.5 566.1,225.6 567.6,225.8 569.1,226.1 570.6,226.4 572.1,226.7 573.6,226.9 575.1,227.0 576.6,227.1 578.2,227.2 579.7,227.3 581.2,227.4 582.7,227.5 584.2,227.8 585.7,228.1 587.2,228.6 588.7,229.1 590.2,229.6 591.7,230.2 593.2,230.7 594.7,231.2 596.2,231.8 597.7,232.4 599.2,233.0 600.7,233.6 602.2,234.2 603.7,234.7 605.2,235.2 606.7,235.7 608.2,236.1 609.7,236.5 611.2,237.0 612.7,237.4 614.2,237.8 615.8,238.2 617.3,238.6 618.8,239.0 620.3,239.4 621.8,239.7 623.3,240.1 624.8,240.4 626.3,240.8 627.8,241.1 629.3,241.5 630.8,241.8 632.3,242.2 633.8,242.5" fill="none" stroke="#f060b8" stroke-width="1.3" stroke-linejoin="round" />
<polyline points="483.4,241.1 484.9,241.1 486.4,241.1 487.9,241.1 489.4,241.1 490.9,241.1 492.4,241.1 493.9,241.1 495.4,241.1 496.9,241.1 498.4,241.1 499.9,241.1 501.4,241.1 503.0,241.1 504.5,241.1 506.0,241.1 507.5,241.1 509.0,241.1 510.5,241.1 512.0,241.0 513.5,241.0 515.0,241.0 516.5,241.0 518.0,240.9 519.5,240.9 521.0,240.9 522.5,240.8 524.0,240.8 525.5,240.7 527.0,240.6 528.5,240.6 530.0,240.5 531.5,240.4 533.0,240.3 534.5,239.8 536.0,239.0 537.5,237.9 539.0,236.8 540.6,235.5 542.1,234.3 543.6,233.3 545.1,232.3 546.6,231.2 548.1,230.2 549.6,229.1 551.1,228.2 552.6,227.3 554.1,226.5 555.6,225.9 557.1,225.2 558.6,224.6 560.1,224.1 561.6,223.6 563.1,223.4 564.6,223.3 566.1,223.4 567.6,223.6 569.1,223.9 570.6,224.2 572.1,224.5 573.6,224.7 575.1,225.0 576.6,225.2 578.2,225.4 579.7,225.6 581.2,225.8 582.7,226.1 584.2,226.4 585.7,226.8 587.2,227.2 588.7,227.7 590.2,228.2 591.7,228.8 593.2,229.3 594.7,229.8 596.2,230.4 597.7,231.0 599.2,231.6 600.7,232.2 602.2,232.7 603.7,233.3 605.2,233.8 606.7,234.3 608.2,234.9 609.7,235.4 611.2,235.9 612.7,236.4 614.2,236.9 615.8,237.4 617.3,237.8 618.8,238.3 620.3,238.7 621.8,239.1 623.3,239.4 624.8,239.8 626.3,240.1 627.8,240.5 629.3,240.8 630.8,241.1 632.3,241.5 633.8,241.8" fill="none" stroke="#f59a50" stroke-width="1.3" stroke-linejoin="round" />
<polyline points="483.4,229.7 484.9,230.5 486.4,231.3 487.9,232.1 489.4,232.9 490.9,233.6 492.4,234.4 493.9,235.1 495.4,235.7 496.9,236.5 498.4,237.2 499.9,237.9 501.4,238.5 503.0,239.1 504.5,239.5 506.0,239.7 507.5,239.8 509.0,239.9 510.5,240.0 512.0,240.1 513.5,240.2 515.0,240.3 516.5,240.3 518.0,240.4 519.5,240.4 521.0,240.4 522.5,240.4 524.0,240.4 525.5,240.4 527.0,240.4 528.5,240.4 530.0,240.4 531.5,240.4 533.0,240.1 534.5,238.1 536.0,235.7 537.5,232.5 539.0,228.7 540.6,224.7 542.1,220.8 543.6,216.5 545.1,212.0 546.6,207.4 548.1,202.8 549.6,198.2 551.1,193.7 552.6,189.2 554.1,184.7 555.6,180.3 557.1,176.2 558.6,172.6 560.1,168.7 561.6,166.2 563.1,166.1 564.6,166.1 566.1,166.1 567.6,166.4 569.1,166.6 570.6,166.0 572.1,164.6 573.6,162.8 575.1,160.5 576.6,157.7 578.2,155.0 579.7,152.2 581.2,149.7 582.7,149.1 584.2,150.8 585.7,155.2 587.2,163.4 588.7,175.4 590.2,187.0 591.7,196.8 593.2,205.6 594.7,211.9 596.2,215.8 597.7,218.9 599.2,221.4 600.7,223.7 602.2,225.8 603.7,227.8 605.2,229.6 606.7,231.2 608.2,232.5 609.7,233.7 611.2,234.8 612.7,235.8 614.2,236.7 615.8,237.4 617.3,238.0 618.8,238.6 620.3,239.1 621.8,239.5 623.3,239.9 624.8,240.2 626.3,240.5 627.8,240.8 629.3,241.0 630.8,241.3 632.3,241.6 633.8,241.8" fill="none" stroke="#c050c8" stroke-width="1.3" stroke-linejoin="round" />
</g>
<line x1="493.5" y1="136.4" x2="505.7" y2="136.4" stroke="#c050c8" stroke-width="1.4"/>
<text x="508.0" y="138.6" font-size="6.1" fill="#111" stroke="#111" stroke-width="0.21" text-anchor="start" >0 mg/mL</text>
<line x1="493.5" y1="144.4" x2="505.7" y2="144.4" stroke="#f59a50" stroke-width="1.4"/>
<text x="508.0" y="146.6" font-size="6.1" fill="#111" stroke="#111" stroke-width="0.21" text-anchor="start" >0.01 mg/mL</text>
<line x1="493.5" y1="152.5" x2="505.7" y2="152.5" stroke="#f060b8" stroke-width="1.4"/>
<text x="508.0" y="154.7" font-size="6.1" fill="#111" stroke="#111" stroke-width="0.21" text-anchor="start" >0.02 mg/mL</text>
<line x1="493.5" y1="160.5" x2="505.7" y2="160.5" stroke="#30c050" stroke-width="1.4"/>
<text x="508.0" y="162.7" font-size="6.1" fill="#111" stroke="#111" stroke-width="0.21" text-anchor="start" >0.1 mg/mL</text>
<line x1="493.5" y1="168.6" x2="505.7" y2="168.6" stroke="#f0c060" stroke-width="1.4"/>
<text x="508.0" y="170.8" font-size="6.1" fill="#111" stroke="#111" stroke-width="0.21" text-anchor="start" >0.2 mg/mL</text>
<line x1="493.5" y1="176.6" x2="505.7" y2="176.6" stroke="#2a8cc0" stroke-width="1.4"/>
<text x="508.0" y="178.8" font-size="6.1" fill="#111" stroke="#111" stroke-width="0.21" text-anchor="start" >1.0 mg/mL</text>
<line x1="493.5" y1="184.6" x2="505.7" y2="184.6" stroke="#20b8b8" stroke-width="1.4"/>
<text x="508.0" y="186.8" font-size="6.1" fill="#111" stroke="#111" stroke-width="0.21" text-anchor="start" >1.5 mg/mL</text>
<line x1="493.5" y1="192.7" x2="505.7" y2="192.7" stroke="#555555" stroke-width="1.4"/>
<text x="508.0" y="194.9" font-size="6.1" fill="#111" stroke="#111" stroke-width="0.21" text-anchor="start" >2.0 mg/mL</text>
<text x="0.0" y="283.2" font-size="18" fill="#111" stroke="#111" stroke-width="0.45" text-anchor="start" >D</text>
<text x="54.2" y="294.8" font-size="10.5" fill="#111" stroke="#111" stroke-width="0.37" text-anchor="middle" >Ec</text>
<text x="171.8" y="294.7" font-size="10.5" fill="#111" stroke="#111" stroke-width="0.37" text-anchor="middle" >Ec/MB</text>
<filter id="speckL" x="0" y="0" width="100%" height="100%" color-interpolation-filters="sRGB"><feTurbulence type="fractalNoise" baseFrequency="0.6" numOctaves="2" seed="7"/><feColorMatrix type="matrix" values="0 0 0 0 0.58  0 0 0 0 0.55  0 0 0 0 0.58  0 0 0 1.0 -0.35"/><feComposite in2="SourceGraphic" operator="in"/></filter>
<filter id="speckR" x="0" y="0" width="100%" height="100%" color-interpolation-filters="sRGB"><feTurbulence type="fractalNoise" baseFrequency="0.55" numOctaves="2" seed="21" result="n"/><feColorMatrix in="n" type="matrix" values="0 0 0 0 0.50  0 0 0 0 0.62  0 0 0 0 0.66  1.3 0 0 0 -0.5" result="teal"/><feColorMatrix in="n" type="matrix" values="0 0 0 0 0.72  0 0 0 0 0.69  0 0 0 0 0.75  0 1.3 0 0 -0.5" result="pink"/><feMerge><feMergeNode in="teal"/><feMergeNode in="pink"/></feMerge><feComposite in2="SourceGraphic" operator="in"/></filter>
<rect x="0" y="300.8" width="108.8" height="107.6" fill="#aaa2a8"/>
<rect x="0" y="300.8" width="108.8" height="107.6" fill="#aaa2a8" filter="url(#speckL)"/>
<rect x="117.6" y="300.8" width="108.4" height="107.6" fill="#a9aeb3"/>
<rect x="117.6" y="300.8" width="108.4" height="107.6" fill="#a9aeb3" filter="url(#speckR)"/>
<circle cx="185.1" cy="380.6" r="0.74" fill="#1f8a94" opacity="0.77"/>
<circle cx="197.8" cy="400.0" r="0.32" fill="#1f8a94" opacity="0.51"/>
<circle cx="219.9" cy="370.6" r="0.80" fill="#1f8a94" opacity="0.31"/>
<circle cx="168.4" cy="327.3" r="0.60" fill="#1f8a94" opacity="0.57"/>
<circle cx="119.0" cy="324.1" r="0.45" fill="#1f8a94" opacity="0.75"/>
<circle cx="200.6" cy="318.0" r="0.74" fill="#1f8a94" opacity="0.33"/>
<circle cx="184.5" cy="314.4" r="0.30" fill="#1f8a94" opacity="0.73"/>
<circle cx="140.3" cy="324.0" r="0.84" fill="#1f8a94" opacity="0.73"/>
<circle cx="149.0" cy="404.3" r="0.60" fill="#1f8a94" opacity="0.62"/>
<circle cx="139.8" cy="402.0" r="0.68" fill="#1f8a94" opacity="0.78"/>
<circle cx="214.5" cy="332.9" r="0.50" fill="#1f8a94" opacity="0.34"/>
<circle cx="133.4" cy="307.8" r="0.47" fill="#1f8a94" opacity="0.58"/>
<circle cx="118.0" cy="373.7" r="0.49" fill="#1f8a94" opacity="0.42"/>
<circle cx="206.3" cy="352.5" r="0.47" fill="#1f8a94" opacity="0.51"/>
<circle cx="194.0" cy="306.9" r="0.84" fill="#1f8a94" opacity="0.26"/>
<circle cx="198.9" cy="391.7" r="0.31" fill="#1f8a94" opacity="0.68"/>
<circle cx="157.3" cy="363.0" r="0.30" fill="#1f8a94" opacity="0.28"/>
<circle cx="137.2" cy="403.6" r="0.41" fill="#1f8a94" opacity="0.67"/>
<circle cx="218.4" cy="402.2" r="0.49" fill="#1f8a94" opacity="0.45"/>
<circle cx="174.5" cy="384.3" r="0.36" fill="#1f8a94" opacity="0.66"/>
<circle cx="204.0" cy="393.3" r="0.32" fill="#1f8a94" opacity="0.77"/>
<circle cx="127.5" cy="337.5" r="0.64" fill="#1f8a94" opacity="0.75"/>
<circle cx="154.5" cy="400.2" r="0.60" fill="#1f8a94" opacity="0.42"/>
<circle cx="151.9" cy="319.9" r="0.34" fill="#1f8a94" opacity="0.33"/>
<circle cx="192.3" cy="408.0" r="0.39" fill="#1f8a94" opacity="0.28"/>
<circle cx="224.6" cy="358.2" r="0.52" fill="#1f8a94" opacity="0.38"/>
<circle cx="182.0" cy="389.7" r="0.55" fill="#1f8a94" opacity="0.48"/>
<circle cx="123.6" cy="399.4" r="0.32" fill="#1f8a94" opacity="0.52"/>
<circle cx="208.5" cy="314.8" r="0.70" fill="#1f8a94" opacity="0.77"/>
<circle cx="185.9" cy="385.6" r="0.36" fill="#1f8a94" opacity="0.49"/>
<circle cx="133.8" cy="391.7" r="0.46" fill="#1f8a94" opacity="0.50"/>
<circle cx="225.9" cy="392.5" r="0.84" fill="#1f8a94" opacity="0.50"/>
<circle cx="170.5" cy="379.3" r="0.56" fill="#1f8a94" opacity="0.41"/>
<circle cx="161.4" cy="316.6" r="0.51" fill="#1f8a94" opacity="0.79"/>
<circle cx="221.6" cy="368.3" r="0.57" fill="#1f8a94" opacity="0.44"/>
<circle cx="127.3" cy="330.1" r="0.73" fill="#1f8a94" opacity="0.73"/>
<circle cx="156.8" cy="385.4" r="0.73" fill="#1f8a94" opacity="0.63"/>
<circle cx="189.6" cy="382.5" r="0.50" fill="#1f8a94" opacity="0.64"/>
<circle cx="148.0" cy="353.1" r="0.72" fill="#1f8a94" opacity="0.63"/>
<circle cx="149.5" cy="402.5" r="0.66" fill="#1f8a94" opacity="0.57"/>
<circle cx="118.9" cy="359.7" r="0.44" fill="#1f8a94" opacity="0.62"/>
<circle cx="167.8" cy="388.7" r="0.66" fill="#1f8a94" opacity="0.69"/>
<circle cx="155.3" cy="370.1" r="0.71" fill="#1f8a94" opacity="0.71"/>
<circle cx="155.5" cy="391.5" r="0.78" fill="#1f8a94" opacity="0.63"/>
<circle cx="223.4" cy="403.7" r="0.58" fill="#1f8a94" opacity="0.54"/>
<circle cx="135.6" cy="390.8" r="0.82" fill="#1f8a94" opacity="0.51"/>
<circle cx="192.6" cy="378.2" r="0.70" fill="#1f8a94" opacity="0.34"/>
<circle cx="202.2" cy="363.3" r="0.67" fill="#1f8a94" opacity="0.48"/>
<circle cx="185.2" cy="384.2" r="0.65" fill="#1f8a94" opacity="0.65"/>
<circle cx="120.6" cy="318.0" r="0.54" fill="#1f8a94" opacity="0.61"/>
<circle cx="141.3" cy="374.6" r="0.65" fill="#1f8a94" opacity="0.27"/>
<circle cx="168.7" cy="325.1" r="0.33" fill="#1f8a94" opacity="0.32"/>
<circle cx="152.0" cy="320.3" r="0.41" fill="#1f8a94" opacity="0.27"/>
<circle cx="168.0" cy="341.7" r="0.64" fill="#1f8a94" opacity="0.57"/>
<circle cx="143.4" cy="398.0" r="0.30" fill="#1f8a94" opacity="0.47"/>
<circle cx="147.8" cy="344.9" r="0.36" fill="#1f8a94" opacity="0.71"/>
<circle cx="158.1" cy="304.7" r="0.64" fill="#1f8a94" opacity="0.30"/>
<circle cx="176.7" cy="337.3" r="0.62" fill="#1f8a94" opacity="0.78"/>
<circle cx="206.3" cy="345.9" r="0.75" fill="#1f8a94" opacity="0.60"/>
<circle cx="157.6" cy="316.1" r="0.63" fill="#1f8a94" opacity="0.56"/>
<circle cx="221.4" cy="405.0" r="0.63" fill="#1f8a94" opacity="0.44"/>
<circle cx="214.5" cy="300.9" r="0.36" fill="#1f8a94" opacity="0.56"/>
<circle cx="184.3" cy="315.9" r="0.65" fill="#1f8a94" opacity="0.74"/>
<circle cx="158.3" cy="347.2" r="0.42" fill="#1f8a94" opacity="0.41"/>
<circle cx="223.0" cy="341.7" r="0.83" fill="#1f8a94" opacity="0.75"/>
<circle cx="182.2" cy="328.8" r="0.84" fill="#1f8a94" opacity="0.52"/>
<circle cx="162.6" cy="335.1" r="0.84" fill="#1f8a94" opacity="0.52"/>
<circle cx="148.6" cy="352.1" r="0.37" fill="#1f8a94" opacity="0.59"/>
<circle cx="165.7" cy="332.3" r="0.73" fill="#1f8a94" opacity="0.70"/>
<circle cx="119.0" cy="358.1" r="0.45" fill="#1f8a94" opacity="0.76"/>
<circle cx="202.4" cy="327.2" r="0.45" fill="#1f8a94" opacity="0.34"/>
<circle cx="224.8" cy="332.3" r="0.63" fill="#1f8a94" opacity="0.51"/>
<circle cx="187.5" cy="365.8" r="0.71" fill="#1f8a94" opacity="0.31"/>
<circle cx="200.0" cy="333.2" r="0.59" fill="#1f8a94" opacity="0.43"/>
<circle cx="149.8" cy="357.8" r="0.56" fill="#1f8a94" opacity="0.45"/>
<circle cx="198.4" cy="364.4" r="0.32" fill="#1f8a94" opacity="0.39"/>
<circle cx="167.0" cy="399.4" r="0.79" fill="#1f8a94" opacity="0.55"/>
<circle cx="119.2" cy="384.6" r="0.54" fill="#1f8a94" opacity="0.57"/>
<circle cx="194.4" cy="368.8" r="0.57" fill="#1f8a94" opacity="0.75"/>
<circle cx="159.4" cy="343.0" r="0.77" fill="#1f8a94" opacity="0.36"/>
<circle cx="149.7" cy="390.1" r="0.34" fill="#1f8a94" opacity="0.71"/>
<circle cx="192.9" cy="347.4" r="0.46" fill="#1f8a94" opacity="0.68"/>
<circle cx="216.3" cy="316.2" r="0.56" fill="#1f8a94" opacity="0.55"/>
<circle cx="171.5" cy="336.4" r="0.38" fill="#1f8a94" opacity="0.57"/>
<circle cx="205.6" cy="308.2" r="0.43" fill="#1f8a94" opacity="0.70"/>
<circle cx="203.4" cy="372.2" r="0.31" fill="#1f8a94" opacity="0.65"/>
<circle cx="223.7" cy="408.2" r="0.69" fill="#1f8a94" opacity="0.28"/>
<circle cx="208.9" cy="324.4" r="0.66" fill="#1f8a94" opacity="0.77"/>
<circle cx="194.8" cy="315.3" r="0.46" fill="#1f8a94" opacity="0.75"/>
<circle cx="133.8" cy="366.5" r="0.53" fill="#1f8a94" opacity="0.34"/>
<circle cx="185.1" cy="305.5" r="0.36" fill="#1f8a94" opacity="0.46"/>
<circle cx="125.4" cy="307.0" r="0.62" fill="#1f8a94" opacity="0.66"/>
<circle cx="212.8" cy="315.3" r="0.54" fill="#1f8a94" opacity="0.42"/>
<circle cx="182.7" cy="353.5" r="0.82" fill="#1f8a94" opacity="0.46"/>
<circle cx="123.6" cy="375.8" r="0.38" fill="#1f8a94" opacity="0.60"/>
<circle cx="172.4" cy="398.8" r="0.61" fill="#1f8a94" opacity="0.59"/>
<circle cx="146.1" cy="360.2" r="0.44" fill="#1f8a94" opacity="0.66"/>
<circle cx="173.6" cy="315.2" r="0.43" fill="#1f8a94" opacity="0.45"/>
<circle cx="197.5" cy="320.1" r="0.69" fill="#1f8a94" opacity="0.61"/>
<circle cx="126.8" cy="372.7" r="0.35" fill="#1f8a94" opacity="0.32"/>
<circle cx="182.0" cy="326.5" r="0.78" fill="#1f8a94" opacity="0.51"/>
<circle cx="152.6" cy="386.5" r="0.32" fill="#1f8a94" opacity="0.65"/>
<circle cx="123.4" cy="317.0" r="0.82" fill="#1f8a94" opacity="0.62"/>
<circle cx="141.8" cy="313.3" r="0.83" fill="#1f8a94" opacity="0.62"/>
<circle cx="206.6" cy="315.8" r="0.64" fill="#1f8a94" opacity="0.44"/>
<circle cx="143.1" cy="336.7" r="0.64" fill="#1f8a94" opacity="0.44"/>
<circle cx="159.4" cy="315.5" r="0.76" fill="#1f8a94" opacity="0.61"/>
<circle cx="204.8" cy="347.4" r="0.77" fill="#1f8a94" opacity="0.53"/>
<circle cx="181.8" cy="362.5" r="0.71" fill="#1f8a94" opacity="0.47"/>
<circle cx="128.1" cy="304.4" r="0.41" fill="#1f8a94" opacity="0.27"/>
<circle cx="214.0" cy="352.6" r="0.72" fill="#1f8a94" opacity="0.25"/>
<circle cx="168.6" cy="396.5" r="0.64" fill="#1f8a94" opacity="0.49"/>
<circle cx="168.1" cy="311.5" r="0.39" fill="#1f8a94" opacity="0.34"/>
<circle cx="158.2" cy="342.3" r="0.78" fill="#1f8a94" opacity="0.33"/>
<circle cx="145.1" cy="330.7" r="0.39" fill="#1f8a94" opacity="0.41"/>
<circle cx="143.1" cy="352.7" r="0.32" fill="#1f8a94" opacity="0.76"/>
<circle cx="157.6" cy="401.7" r="0.68" fill="#1f8a94" opacity="0.62"/>
<circle cx="168.7" cy="402.5" r="0.36" fill="#1f8a94" opacity="0.62"/>
<circle cx="149.2" cy="373.4" r="0.70" fill="#1f8a94" opacity="0.34"/>
<circle cx="139.4" cy="303.5" r="0.43" fill="#1f8a94" opacity="0.29"/>
<circle cx="161.1" cy="405.6" r="0.50" fill="#1f8a94" opacity="0.42"/>
<circle cx="168.3" cy="331.3" r="0.70" fill="#1f8a94" opacity="0.64"/>
<circle cx="135.3" cy="326.7" r="0.67" fill="#1f8a94" opacity="0.77"/>
<circle cx="187.6" cy="347.1" r="0.84" fill="#1f8a94" opacity="0.25"/>
<circle cx="124.2" cy="384.6" r="0.53" fill="#1f8a94" opacity="0.27"/>
<circle cx="177.0" cy="407.3" r="0.59" fill="#1f8a94" opacity="0.44"/>
<circle cx="127.8" cy="308.5" r="0.79" fill="#1f8a94" opacity="0.52"/>
<circle cx="219.0" cy="306.6" r="0.43" fill="#1f8a94" opacity="0.28"/>
<circle cx="160.7" cy="307.3" r="0.44" fill="#1f8a94" opacity="0.47"/>
<circle cx="150.8" cy="306.3" r="0.32" fill="#1f8a94" opacity="0.78"/>
<circle cx="137.0" cy="355.5" r="0.52" fill="#1f8a94" opacity="0.54"/>
<circle cx="126.7" cy="334.6" r="0.36" fill="#1f8a94" opacity="0.55"/>
<circle cx="217.5" cy="365.2" r="0.77" fill="#1f8a94" opacity="0.37"/>
<circle cx="119.5" cy="358.9" r="0.57" fill="#1f8a94" opacity="0.56"/>
<circle cx="158.4" cy="368.1" r="0.70" fill="#1f8a94" opacity="0.75"/>
<circle cx="150.9" cy="349.1" r="0.75" fill="#1f8a94" opacity="0.37"/>
<circle cx="130.1" cy="334.3" r="0.35" fill="#1f8a94" opacity="0.67"/>
<circle cx="206.4" cy="334.5" r="0.37" fill="#1f8a94" opacity="0.30"/>
<circle cx="144.1" cy="309.9" r="0.54" fill="#1f8a94" opacity="0.57"/>
<circle cx="144.2" cy="307.4" r="0.69" fill="#1f8a94" opacity="0.28"/>
<circle cx="139.3" cy="331.6" r="0.51" fill="#1f8a94" opacity="0.30"/>
<circle cx="163.2" cy="334.6" r="0.71" fill="#1f8a94" opacity="0.56"/>
<circle cx="214.7" cy="371.2" r="0.72" fill="#1f8a94" opacity="0.57"/>
<circle cx="165.5" cy="388.7" r="0.66" fill="#1f8a94" opacity="0.78"/>
<circle cx="196.5" cy="376.2" r="0.45" fill="#1f8a94" opacity="0.70"/>
<circle cx="159.1" cy="314.8" r="0.34" fill="#1f8a94" opacity="0.34"/>
<circle cx="146.1" cy="373.5" r="0.46" fill="#1f8a94" opacity="0.28"/>
<circle cx="200.4" cy="360.8" r="0.32" fill="#1f8a94" opacity="0.28"/>
<circle cx="131.7" cy="339.2" r="0.77" fill="#1f8a94" opacity="0.77"/>
<circle cx="183.9" cy="325.7" r="0.54" fill="#1f8a94" opacity="0.45"/>
<circle cx="153.4" cy="302.1" r="0.62" fill="#1f8a94" opacity="0.70"/>
<circle cx="196.4" cy="311.1" r="0.59" fill="#1f8a94" opacity="0.34"/>
<circle cx="194.5" cy="348.8" r="0.82" fill="#1f8a94" opacity="0.69"/>
<circle cx="130.4" cy="334.9" r="0.80" fill="#1f8a94" opacity="0.50"/>
<circle cx="164.7" cy="348.3" r="0.72" fill="#1f8a94" opacity="0.76"/>
<circle cx="175.3" cy="405.1" r="0.63" fill="#1f8a94" opacity="0.31"/>
<circle cx="205.9" cy="345.9" r="0.33" fill="#1f8a94" opacity="0.79"/>
<circle cx="121.2" cy="362.9" r="0.57" fill="#1f8a94" opacity="0.73"/>
<circle cx="160.2" cy="324.0" r="0.45" fill="#1f8a94" opacity="0.36"/>
<circle cx="178.6" cy="339.2" r="0.71" fill="#1f8a94" opacity="0.38"/>
<circle cx="155.7" cy="327.5" r="0.84" fill="#1f8a94" opacity="0.71"/>
<circle cx="209.7" cy="367.3" r="0.52" fill="#1f8a94" opacity="0.33"/>
<circle cx="207.8" cy="353.5" r="0.32" fill="#1f8a94" opacity="0.34"/>
<circle cx="128.3" cy="378.0" r="0.80" fill="#1f8a94" opacity="0.36"/>
<circle cx="204.0" cy="335.7" r="0.68" fill="#1f8a94" opacity="0.72"/>
<circle cx="185.1" cy="386.9" r="0.51" fill="#1f8a94" opacity="0.26"/>
<circle cx="173.1" cy="363.9" r="0.40" fill="#1f8a94" opacity="0.46"/>
<circle cx="152.0" cy="303.7" r="0.47" fill="#1f8a94" opacity="0.46"/>
<circle cx="169.2" cy="376.5" r="0.52" fill="#1f8a94" opacity="0.79"/>
<circle cx="206.0" cy="400.2" r="0.68" fill="#1f8a94" opacity="0.62"/>
<circle cx="175.8" cy="386.7" r="0.50" fill="#1f8a94" opacity="0.58"/>
<circle cx="191.3" cy="357.0" r="0.46" fill="#1f8a94" opacity="0.29"/>
<circle cx="127.1" cy="339.1" r="0.62" fill="#1f8a94" opacity="0.67"/>
<circle cx="195.0" cy="333.8" r="0.81" fill="#1f8a94" opacity="0.40"/>
<circle cx="195.2" cy="308.6" r="0.71" fill="#1f8a94" opacity="0.62"/>
<circle cx="221.3" cy="397.3" r="0.68" fill="#1f8a94" opacity="0.71"/>
<circle cx="197.7" cy="366.5" r="0.41" fill="#1f8a94" opacity="0.53"/>
<circle cx="214.7" cy="326.5" r="0.84" fill="#1f8a94" opacity="0.55"/>
<circle cx="160.2" cy="301.1" r="0.51" fill="#1f8a94" opacity="0.35"/>
<circle cx="188.4" cy="397.6" r="0.80" fill="#1f8a94" opacity="0.59"/>
<circle cx="159.5" cy="312.5" r="0.68" fill="#1f8a94" opacity="0.55"/>
<circle cx="195.1" cy="341.0" r="0.79" fill="#1f8a94" opacity="0.37"/>
<circle cx="150.7" cy="329.6" r="0.64" fill="#1f8a94" opacity="0.74"/>
<circle cx="135.7" cy="368.9" r="0.72" fill="#1f8a94" opacity="0.37"/>
<circle cx="124.4" cy="361.7" r="0.76" fill="#1f8a94" opacity="0.73"/>
<circle cx="196.5" cy="345.7" r="0.53" fill="#1f8a94" opacity="0.54"/>
<circle cx="215.7" cy="333.3" r="0.45" fill="#1f8a94" opacity="0.58"/>
<circle cx="222.4" cy="320.9" r="0.32" fill="#1f8a94" opacity="0.31"/>
<circle cx="178.6" cy="365.7" r="0.40" fill="#1f8a94" opacity="0.35"/>
<circle cx="182.0" cy="370.3" r="0.68" fill="#1f8a94" opacity="0.65"/>
<rect x="91" y="402.3" width="15" height="0.9" fill="#fff"/>
<text x="98.5" y="406.6" font-size="2.6" fill="#fff" stroke="#fff" stroke-width="0.09" text-anchor="middle" >50 μm</text>
<rect x="209" y="402.3" width="15" height="0.9" fill="#fff"/>
<text x="216.5" y="406.6" font-size="2.6" fill="#fff" stroke="#fff" stroke-width="0.09" text-anchor="middle" >50 μm</text>
<text x="0.0" y="439.1" font-size="18" fill="#111" stroke="#111" stroke-width="0.45" text-anchor="start" >E</text>
<rect x="27" y="439.5" width="150" height="120.5" fill="none" stroke="#111" stroke-width="1.3"/>
<line x1="26.8" y1="560" x2="26.8" y2="562.5" stroke="#111" stroke-width="0.9"/>
<text x="26.8" y="570.1" font-size="7.5" fill="#111" stroke="#111" stroke-width="0.26" text-anchor="middle" >200</text>
<line x1="51.8" y1="560" x2="51.8" y2="562.5" stroke="#111" stroke-width="0.9"/>
<text x="51.8" y="570.1" font-size="7.5" fill="#111" stroke="#111" stroke-width="0.26" text-anchor="middle" >300</text>
<line x1="76.8" y1="560" x2="76.8" y2="562.5" stroke="#111" stroke-width="0.9"/>
<text x="76.8" y="570.1" font-size="7.5" fill="#111" stroke="#111" stroke-width="0.26" text-anchor="middle" >400</text>
<line x1="101.8" y1="560" x2="101.8" y2="562.5" stroke="#111" stroke-width="0.9"/>
<text x="101.8" y="570.1" font-size="7.5" fill="#111" stroke="#111" stroke-width="0.26" text-anchor="middle" >500</text>
<line x1="126.8" y1="560" x2="126.8" y2="562.5" stroke="#111" stroke-width="0.9"/>
<text x="126.8" y="570.1" font-size="7.5" fill="#111" stroke="#111" stroke-width="0.26" text-anchor="middle" >600</text>
<line x1="151.8" y1="560" x2="151.8" y2="562.5" stroke="#111" stroke-width="0.9"/>
<text x="151.8" y="570.1" font-size="7.5" fill="#111" stroke="#111" stroke-width="0.26" text-anchor="middle" >700</text>
<line x1="176.8" y1="560" x2="176.8" y2="562.5" stroke="#111" stroke-width="0.9"/>
<text x="176.8" y="570.1" font-size="7.5" fill="#111" stroke="#111" stroke-width="0.26" text-anchor="middle" >800</text>
<line x1="24.5" y1="548.8" x2="27" y2="548.8" stroke="#111" stroke-width="0.9"/>
<text x="23.3" y="551.5" font-size="7.5" fill="#111" stroke="#111" stroke-width="0.26" text-anchor="end" >0.0</text>
<line x1="24.5" y1="526.9" x2="27" y2="526.9" stroke="#111" stroke-width="0.9"/>
<text x="23.3" y="529.6" font-size="7.5" fill="#111" stroke="#111" stroke-width="0.26" text-anchor="end" >0.5</text>
<line x1="24.5" y1="505.1" x2="27" y2="505.1" stroke="#111" stroke-width="0.9"/>
<text x="23.3" y="507.8" font-size="7.5" fill="#111" stroke="#111" stroke-width="0.26" text-anchor="end" >1.0</text>
<line x1="24.5" y1="483.2" x2="27" y2="483.2" stroke="#111" stroke-width="0.9"/>
<text x="23.3" y="485.9" font-size="7.5" fill="#111" stroke="#111" stroke-width="0.26" text-anchor="end" >1.5</text>
<line x1="24.5" y1="461.4" x2="27" y2="461.4" stroke="#111" stroke-width="0.9"/>
<text x="23.3" y="464.1" font-size="7.5" fill="#111" stroke="#111" stroke-width="0.26" text-anchor="end" >2.0</text>
<line x1="24.5" y1="439.5" x2="27" y2="439.5" stroke="#111" stroke-width="0.9"/>
<text x="23.3" y="442.2" font-size="7.5" fill="#111" stroke="#111" stroke-width="0.26" text-anchor="end" >2.5</text>
<line x1="39.3" y1="560" x2="39.3" y2="561.3" stroke="#111" stroke-width="0.7"/>
<line x1="64.3" y1="560" x2="64.3" y2="561.3" stroke="#111" stroke-width="0.7"/>
<line x1="89.3" y1="560" x2="89.3" y2="561.3" stroke="#111" stroke-width="0.7"/>
<line x1="114.3" y1="560" x2="114.3" y2="561.3" stroke="#111" stroke-width="0.7"/>
<line x1="139.3" y1="560" x2="139.3" y2="561.3" stroke="#111" stroke-width="0.7"/>
<line x1="164.3" y1="560" x2="164.3" y2="561.3" stroke="#111" stroke-width="0.7"/>
<line x1="25.7" y1="537.9" x2="27" y2="537.9" stroke="#111" stroke-width="0.7"/>
<line x1="25.7" y1="516.0" x2="27" y2="516.0" stroke="#111" stroke-width="0.7"/>
<line x1="25.7" y1="494.2" x2="27" y2="494.2" stroke="#111" stroke-width="0.7"/>
<line x1="25.7" y1="472.3" x2="27" y2="472.3" stroke="#111" stroke-width="0.7"/>
<line x1="25.7" y1="450.5" x2="27" y2="450.5" stroke="#111" stroke-width="0.7"/>
<text x="101.8" y="580.6" font-size="8" fill="#111" stroke="#111" stroke-width="0.28" text-anchor="middle" >Wavelength (nm)</text>
<text x="7.0" y="496.4" font-size="8" fill="#111" stroke="#111" stroke-width="0.28" text-anchor="middle" transform="rotate(-90 7.0 496.4)">Absorbance (a.u.)</text>
<g clip-path="url(#clipE)">
<polyline points="26.8,456.2 27.6,454.2 28.3,454.3 29.1,455.6 29.8,457.6 30.6,460.7 31.3,464.8 32.0,469.1 32.8,473.3 33.5,477.0 34.3,481.0 35.0,485.0 35.8,488.5 36.5,491.3 37.3,493.2 38.0,494.8 38.8,495.9 39.5,496.5 40.3,496.7 41.0,496.9 41.8,497.1 42.5,497.3 43.3,497.8 44.0,498.4 44.8,499.1 45.5,499.9 46.3,500.8 47.0,502.0 47.8,503.3 48.5,504.6 49.3,506.0 50.0,507.4 50.8,508.8 51.5,510.3 52.3,511.7 53.0,513.0 53.8,514.1 54.5,515.1 55.3,516.1 56.0,517.0 56.8,517.8 57.5,518.5 58.3,519.2 59.0,519.8 59.8,520.4 60.5,521.0 61.3,521.5 62.0,522.1 62.8,522.5 63.5,523.0 64.3,523.5 65.0,523.9 65.8,524.3 66.5,524.7 67.3,525.1 68.0,525.5 68.8,525.8 69.5,526.2 70.3,526.5 71.0,526.8 71.8,527.2 72.5,527.5 73.3,527.8 74.0,528.1 74.8,528.4 75.5,528.7 76.3,528.9 77.0,529.2 77.8,529.5 78.5,529.8 79.3,530.0 80.0,530.3 80.8,530.5 81.5,530.8 82.3,531.0 83.0,531.2 83.8,531.4 84.5,531.7 85.3,531.9 86.0,532.1 86.8,532.3 87.5,532.6 88.3,532.8 89.0,533.0 89.8,533.2 90.5,533.4 91.3,533.7 92.0,533.9 92.8,534.1 93.5,534.3 94.3,534.5 95.0,534.7 95.8,534.9 96.5,535.1 97.3,535.4 98.0,535.6 98.8,535.8 99.5,536.0 100.3,536.2 101.0,536.4 101.8,536.6 102.5,536.8 103.3,537.0 104.0,537.1 104.8,537.3 105.5,537.5 106.3,537.7 107.0,537.9 107.8,538.1 108.5,538.3 109.3,538.5 110.0,538.6 110.8,538.8 111.5,539.0 112.3,539.2 113.0,539.3 113.8,539.5 114.5,539.7 115.3,539.8 116.0,540.0 116.8,540.2 117.5,540.3 118.3,540.5 119.0,540.7 119.8,540.8 120.5,541.0 121.3,541.1 122.0,541.3 122.8,541.5 123.5,541.6 124.3,541.8 125.0,541.9 125.8,542.1 126.5,542.2 127.3,542.3 128.1,542.5 128.8,542.6 129.6,542.8 130.3,542.9 131.1,543.0 131.8,543.2 132.6,543.3 133.3,543.4 134.1,543.6 134.8,543.7 135.6,543.8 136.3,543.9 137.1,544.1 137.8,544.2 138.6,544.3 139.3,544.4 140.1,544.5 140.8,544.7 141.6,544.8 142.3,544.9 143.1,545.0 143.8,545.1 144.6,545.2 145.3,545.3 146.1,545.4 146.8,545.5 147.6,545.6 148.3,545.7 149.1,545.8 149.8,545.9 150.6,546.0 151.3,546.1 152.1,546.2 152.8,546.3 153.6,546.4 154.3,546.5 155.1,546.6 155.8,546.6 156.6,546.7 157.3,546.8 158.1,546.9 158.8,547.0 159.6,547.0 160.3,547.1 161.1,547.2 161.8,547.3 162.6,547.3 163.3,547.4 164.1,547.5 164.8,547.5 165.6,547.6 166.3,547.6 167.1,547.7 167.8,547.8 168.6,547.8 169.3,547.9 170.1,547.9 170.8,548.0 171.6,548.0 172.3,548.1 173.1,548.1 173.8,548.2 174.6,548.2 175.3,548.3 176.1,548.3 176.8,548.4" fill="none" stroke="#444444" stroke-width="1.4" stroke-linejoin="round" />
<polyline points="26.8,526.9 27.6,531.7 28.3,535.7 29.1,538.6 29.8,541.0 30.6,542.2 31.3,542.7 32.0,543.1 32.8,543.3 33.5,543.5 34.3,543.6 35.0,543.3 35.8,542.8 36.5,542.1 37.3,541.6 38.0,541.4 38.8,541.8 39.5,542.8 40.3,543.5 41.0,543.6 41.8,543.6 42.5,543.6 43.3,543.5 44.0,543.1 44.8,542.4 45.5,541.5 46.3,540.6 47.0,539.8 47.8,538.7 48.5,537.6 49.3,536.8 50.0,536.7 50.8,537.8 51.5,539.5 52.3,541.2 53.0,543.1 53.8,544.7 54.5,545.4 55.3,545.7 56.0,546.0 56.8,546.1 57.5,546.3 58.3,546.4 59.0,546.6 59.8,546.7 60.5,546.9 61.3,547.2 62.0,547.4 62.8,547.6 63.5,547.8 64.3,548.0 65.0,548.1 65.8,548.2 66.5,548.3 67.3,548.4 68.0,548.5 68.8,548.5 69.5,548.6 70.3,548.6 71.0,548.6 71.8,548.7 72.5,548.7 73.3,548.7 74.0,548.8 74.8,548.8 75.5,548.8 76.3,548.8 77.0,548.8 77.8,548.8 78.5,548.8 79.3,548.8 80.0,548.8 80.8,548.8 81.5,548.8 82.3,548.7 83.0,548.7 83.8,548.7 84.5,548.7 85.3,548.7 86.0,548.6 86.8,548.6 87.5,548.6 88.3,548.6 89.0,548.5 89.8,548.5 90.5,548.5 91.3,548.4 92.0,548.4 92.8,548.4 93.5,548.3 94.3,548.3 95.0,548.3 95.8,548.2 96.5,548.2 97.3,548.2 98.0,548.1 98.8,548.1 99.5,548.0 100.3,548.0 101.0,548.0 101.8,547.9 102.5,547.9 103.3,547.8 104.0,547.8 104.8,547.8 105.5,547.7 106.3,547.7 107.0,547.6 107.8,547.5 108.5,547.5 109.3,547.4 110.0,547.3 110.8,547.2 111.5,547.1 112.3,547.0 113.0,546.8 113.8,546.5 114.5,546.2 115.3,545.9 116.0,545.5 116.8,545.1 117.5,544.7 118.3,544.2 119.0,543.7 119.8,543.2 120.5,542.4 121.3,541.4 122.0,540.4 122.8,539.3 123.5,538.3 124.3,537.5 125.0,536.8 125.8,536.5 126.5,536.2 127.3,536.0 128.1,535.9 128.8,535.7 129.6,535.5 130.3,535.3 131.1,535.1 131.8,534.8 132.6,534.4 133.3,534.0 134.1,533.6 134.8,533.1 135.6,532.6 136.3,532.1 137.1,531.4 137.8,530.7 138.6,529.9 139.3,529.2 140.1,528.6 140.8,528.1 141.6,527.6 142.3,527.1 143.1,526.9 143.8,527.4 144.6,528.5 145.3,529.9 146.1,531.8 146.8,534.7 147.6,538.0 148.3,540.9 149.1,542.8 149.8,544.2 150.6,545.4 151.3,546.3 152.1,546.7 152.8,546.9 153.6,547.1 154.3,547.3 155.1,547.4 155.8,547.6 156.6,547.7 157.3,547.7 158.1,547.8 158.8,547.9 159.6,547.9 160.3,548.0 161.1,548.1 161.8,548.1 162.6,548.2 163.3,548.2 164.1,548.2 164.8,548.3 165.6,548.3 166.3,548.4 167.1,548.4 167.8,548.4 168.6,548.5 169.3,548.5 170.1,548.5 170.8,548.5 171.6,548.6 172.3,548.6 173.1,548.6 173.8,548.7 174.6,548.7 175.3,548.7 176.1,548.8 176.8,548.8" fill="none" stroke="#2d8fe0" stroke-width="1.4" stroke-linejoin="round" />
<polyline points="26.8,472.3 27.6,478.3 28.3,484.2 29.1,489.2 29.8,493.7 30.6,497.7 31.3,500.7 32.0,502.9 32.8,504.8 33.5,506.3 34.3,507.3 35.0,507.9 35.8,508.4 36.5,508.7 37.3,509.1 38.0,509.5 38.8,509.9 39.5,510.4 40.3,510.9 41.0,511.3 41.8,511.6 42.5,511.6 43.3,511.5 44.0,511.3 44.8,511.1 45.5,510.8 46.3,510.5 47.0,510.3 47.8,510.0 48.5,509.7 49.3,509.5 50.0,509.5 50.8,510.3 51.5,511.8 52.3,513.7 53.0,515.7 53.8,517.4 54.5,518.6 55.3,519.6 56.0,520.5 56.8,521.4 57.5,522.2 58.3,523.0 59.0,523.7 59.8,524.4 60.5,525.1 61.3,525.7 62.0,526.3 62.8,526.8 63.5,527.4 64.3,527.9 65.0,528.4 65.8,528.9 66.5,529.3 67.3,529.8 68.0,530.2 68.8,530.6 69.5,531.0 70.3,531.4 71.0,531.8 71.8,532.2 72.5,532.6 73.3,532.9 74.0,533.3 74.8,533.6 75.5,534.0 76.3,534.3 77.0,534.6 77.8,534.9 78.5,535.2 79.3,535.5 80.0,535.8 80.8,536.2 81.5,536.5 82.3,536.8 83.0,537.1 83.8,537.4 84.5,537.7 85.3,538.0 86.0,538.3 86.8,538.6 87.5,538.9 88.3,539.2 89.0,539.5 89.8,539.8 90.5,540.1 91.3,540.4 92.0,540.6 92.8,540.9 93.5,541.1 94.3,541.4 95.0,541.6 95.8,541.8 96.5,542.1 97.3,542.3 98.0,542.6 98.8,542.8 99.5,543.1 100.3,543.3 101.0,543.5 101.8,543.7 102.5,543.9 103.3,544.1 104.0,544.2 104.8,544.3 105.5,544.4 106.3,544.4 107.0,544.4 107.8,544.4 108.5,544.4 109.3,544.4 110.0,544.4 110.8,544.4 111.5,544.4 112.3,544.4 113.0,544.4 113.8,544.2 114.5,543.7 115.3,542.8 116.0,541.7 116.8,540.5 117.5,539.3 118.3,538.0 119.0,536.9 119.8,535.9 120.5,534.8 121.3,533.6 122.0,532.5 122.8,531.3 123.5,530.2 124.3,529.2 125.0,528.3 125.8,527.6 126.5,526.9 127.3,526.2 128.1,525.5 128.8,524.9 129.6,524.5 130.3,524.3 131.1,524.4 131.8,524.5 132.6,524.8 133.3,525.1 134.1,525.5 134.8,525.8 135.6,526.1 136.3,526.3 137.1,526.4 137.8,526.6 138.6,526.8 139.3,526.9 140.1,527.1 140.8,527.2 141.6,527.4 142.3,527.6 143.1,527.8 143.8,528.2 144.6,528.9 145.3,529.6 146.1,530.5 146.8,531.3 147.6,532.2 148.3,533.2 149.1,534.3 149.8,535.3 150.6,536.4 151.3,537.3 152.1,538.1 152.8,538.9 153.6,539.7 154.3,540.5 155.1,541.2 155.8,541.9 156.6,542.6 157.3,543.2 158.1,543.7 158.8,544.2 159.6,544.5 160.3,544.9 161.1,545.2 161.8,545.5 162.6,545.8 163.3,546.0 164.1,546.3 164.8,546.5 165.6,546.7 166.3,546.9 167.1,547.1 167.8,547.2 168.6,547.4 169.3,547.5 170.1,547.6 170.8,547.7 171.6,547.8 172.3,547.9 173.1,548.0 173.8,548.0 174.6,548.1 175.3,548.2 176.1,548.3 176.8,548.4" fill="none" stroke="#f05a5a" stroke-width="1.4" stroke-linejoin="round" />
</g>
<line x1="125.5" y1="451.7" x2="137.5" y2="451.7" stroke="#444444" stroke-width="1.2"/>
<text x="140.5" y="453.9" font-size="6.3" fill="#111" stroke="#111" stroke-width="0.22" text-anchor="start" >Ec</text>
<line x1="125.5" y1="459.4" x2="137.5" y2="459.4" stroke="#2d8fe0" stroke-width="1.2"/>
<text x="140.5" y="461.6" font-size="6.3" fill="#111" stroke="#111" stroke-width="0.22" text-anchor="start" >MB</text>
<line x1="125.5" y1="467.2" x2="137.5" y2="467.2" stroke="#f05a5a" stroke-width="1.2"/>
<text x="140.5" y="469.4" font-size="6.3" fill="#111" stroke="#111" stroke-width="0.22" text-anchor="start" >Ec/MB</text>
<text x="228.5" y="283.2" font-size="18" fill="#111" stroke="#111" stroke-width="0.45" text-anchor="start" >F</text>
<rect x="289.9" y="283.4" width="148.5" height="120.40000000000003" fill="none" stroke="#111" stroke-width="1.3"/>
<line x1="289.9" y1="403.8" x2="289.9" y2="406.3" stroke="#111" stroke-width="0.9"/>
<text x="289.9" y="413.9" font-size="7.5" fill="#111" stroke="#111" stroke-width="0.26" text-anchor="middle" >0.00</text>
<line x1="314.6" y1="403.8" x2="314.6" y2="406.3" stroke="#111" stroke-width="0.9"/>
<text x="314.6" y="413.9" font-size="7.5" fill="#111" stroke="#111" stroke-width="0.26" text-anchor="middle" >0.05</text>
<line x1="339.4" y1="403.8" x2="339.4" y2="406.3" stroke="#111" stroke-width="0.9"/>
<text x="339.4" y="413.9" font-size="7.5" fill="#111" stroke="#111" stroke-width="0.26" text-anchor="middle" >0.10</text>
<line x1="364.1" y1="403.8" x2="364.1" y2="406.3" stroke="#111" stroke-width="0.9"/>
<text x="364.1" y="413.9" font-size="7.5" fill="#111" stroke="#111" stroke-width="0.26" text-anchor="middle" >0.15</text>
<line x1="388.9" y1="403.8" x2="388.9" y2="406.3" stroke="#111" stroke-width="0.9"/>
<text x="388.9" y="413.9" font-size="7.5" fill="#111" stroke="#111" stroke-width="0.26" text-anchor="middle" >0.20</text>
<line x1="413.6" y1="403.8" x2="413.6" y2="406.3" stroke="#111" stroke-width="0.9"/>
<text x="413.6" y="413.9" font-size="7.5" fill="#111" stroke="#111" stroke-width="0.26" text-anchor="middle" >0.25</text>
<line x1="438.4" y1="403.8" x2="438.4" y2="406.3" stroke="#111" stroke-width="0.9"/>
<text x="438.4" y="413.9" font-size="7.5" fill="#111" stroke="#111" stroke-width="0.26" text-anchor="middle" >0.30</text>
<line x1="302.3" y1="403.8" x2="302.3" y2="405.1" stroke="#111" stroke-width="0.7"/>
<line x1="327.0" y1="403.8" x2="327.0" y2="405.1" stroke="#111" stroke-width="0.7"/>
<line x1="351.8" y1="403.8" x2="351.8" y2="405.1" stroke="#111" stroke-width="0.7"/>
<line x1="376.5" y1="403.8" x2="376.5" y2="405.1" stroke="#111" stroke-width="0.7"/>
<line x1="401.3" y1="403.8" x2="401.3" y2="405.1" stroke="#111" stroke-width="0.7"/>
<line x1="426.0" y1="403.8" x2="426.0" y2="405.1" stroke="#111" stroke-width="0.7"/>
<text x="365.0" y="425.2" font-size="8" fill="#111" stroke="#111" stroke-width="0.28" text-anchor="middle" >Loading amount (mg/mg)</text>
<line x1="287.3" y1="303.9" x2="289.8" y2="303.9" stroke="#111" stroke-width="0.9"/>
<text x="285.8" y="306.6" font-size="7.5" fill="#111" stroke="#111" stroke-width="0.26" text-anchor="end" >Ec</text>
<line x1="287.3" y1="343.5" x2="289.8" y2="343.5" stroke="#111" stroke-width="0.9"/>
<text x="284.5" y="346.2" font-size="7.5" fill="#111" stroke="#111" stroke-width="0.26" text-anchor="end" >SiO<tspan font-size="4.5" dy="1.8">2</tspan></text>
<line x1="287.3" y1="383.5" x2="289.8" y2="383.5" stroke="#111" stroke-width="0.9"/>
<text x="285.8" y="386.2" font-size="7.5" fill="#111" stroke="#111" stroke-width="0.26" text-anchor="end" >ZIF-8</text>
<rect x="289.8" y="293.5" width="112.0" height="20" fill="#0a64c8" stroke="#111" stroke-width="0.9"/>
<rect x="289.8" y="333.4" width="3.2" height="20.4" fill="#e0e0d8" stroke="#111" stroke-width="0.9"/>
<rect x="289.8" y="373.6" width="1.2" height="20.2" fill="#888" stroke="#111" stroke-width="0.9"/>
<line x1="392" y1="303.5" x2="413.2" y2="303.5" stroke="#111" stroke-width="0.9"/>
<line x1="392" y1="301" x2="392" y2="306" stroke="#111" stroke-width="0.9"/>
<line x1="413.2" y1="301" x2="413.2" y2="306" stroke="#111" stroke-width="0.9"/>
<polyline points="416,303 421.1,303 421.1,343.7 416,343.7" fill="none" stroke="#222" stroke-width="1.1"/>
<polyline points="425,303 430.5,303 430.5,383.9 425,383.9" fill="none" stroke="#222" stroke-width="1.1"/>
<text x="420.9" y="323.8" font-size="8.7" fill="#111" stroke="#111" stroke-width="0.3" text-anchor="middle" transform="rotate(90 420.9 323.8)">****</text>
<text x="429.8" y="348.2" font-size="8.7" fill="#111" stroke="#111" stroke-width="0.3" text-anchor="middle" transform="rotate(90 429.8 348.2)">****</text>
<circle cx="252" cy="302.5" r="13" fill="#b8ecb0" opacity="0.6" filter="url(#glow)"/>
<circle cx="252" cy="343" r="13" fill="#faf2b0" opacity="0.7" filter="url(#glow)"/>
<circle cx="251" cy="385" r="13" fill="#fbcfae" opacity="0.7" filter="url(#glow)"/>
<rect x="244.5" y="298.6" width="15" height="8" rx="4" fill="#5c5c5c" transform="rotate(-55 252 302.6)"/>
<circle cx="251.6" cy="343" r="6.8" fill="#737373"/>
<circle cx="250" cy="341.5" r="3.2" fill="#4e4e4e" opacity="0.7" filter="url(#blur1)"/>
<circle cx="253.5" cy="345" r="2.5" fill="#8a8a8a" opacity="0.6" filter="url(#blur1)"/>
<polygon points="245.8,383.7 248.9,379.1 255.1,379.1 258.2,383.7 255.1,388.3 248.9,388.3" fill="#8a8a8a" stroke="#7a7a7a" stroke-width="0.5"/>
<text x="205.0" y="438.7" font-size="18" fill="#111" stroke="#111" stroke-width="0.45" text-anchor="start" >G</text>
<text x="268.0" y="446.3" font-size="10.5" fill="#111" stroke="#111" stroke-width="0.37" text-anchor="middle" >Ec</text>
<text x="391.2" y="447.0" font-size="10.5" fill="#111" stroke="#111" stroke-width="0.37" text-anchor="middle" >Ec/MB@PDA</text>
<filter id="temnoise" x="0" y="0" width="100%" height="100%" color-interpolation-filters="sRGB"><feTurbulence type="fractalNoise" baseFrequency="0.18" numOctaves="3" seed="11"/><feColorMatrix type="matrix" values="0 0 0 0 0.78  0 0 0 0 0.78  0 0 0 0 0.78  0 0 0 -0.9 0.5"/><feComposite in2="SourceGraphic" operator="in"/></filter>
<radialGradient id="rodG1" cx="0.5" cy="0.5" r="0.5"><stop offset="0" stop-color="#555"/><stop offset="0.7" stop-color="#4a4a4a"/><stop offset="0.9" stop-color="#7a7a7a"/><stop offset="1" stop-color="#b0b0b0"/></radialGradient>
<g clip-path="url(#clipG1)">
<rect x="210.4" y="452.4" width="116" height="115" fill="#efefef"/>
<rect x="210.4" y="452.4" width="116" height="115" fill="#efefef" filter="url(#temnoise)"/>
<g transform="rotate(3 269 512)">
<rect x="243.5" y="459" width="51" height="106" rx="25" ry="32" fill="#f8f8f8" filter="url(#blur2)"/>
<rect x="247" y="462.5" width="44" height="99" rx="22" ry="30" fill="#666" filter="url(#blur2)"/>
<rect x="252" y="472" width="34" height="80" rx="17" ry="22" fill="#707070" filter="url(#temblur)"/>
</g>
<ellipse cx="265" cy="487" rx="18" ry="14" fill="#2a2a2a" filter="url(#temblur)"/>
<ellipse cx="267.5" cy="483" rx="11" ry="9" fill="#0c0c0c" filter="url(#temblur)"/>
<ellipse cx="267.5" cy="544.5" rx="6" ry="7" fill="#1a1a1a" filter="url(#blur2)"/>
<rect x="293" y="560" width="31" height="1.6" fill="#fff"/>
</g>
<g clip-path="url(#clipG2)">
<rect x="333.7" y="452.4" width="116" height="115" fill="#eeeeee"/>
<rect x="333.7" y="452.4" width="116" height="115" fill="#eeeeee" filter="url(#temnoise)"/>
<g transform="translate(390.5 511.5) rotate(-51.6)">
<path d="M-33,-26.5 L36,-21.5 A21.5,21.5 0 0 1 36,21.5 L-33,26.5 A26.5,26.5 0 0 1 -33,-26.5 Z" fill="#cfcfcf" filter="url(#blur2)"/>
<path d="M-33,-24 L36,-19 A19,19 0 0 1 36,19 L-33,24 A24,24 0 0 1 -33,-24 Z" fill="#333" filter="url(#blur2)"/>
<path d="M-30,-18 L33,-14 A14,14 0 0 1 33,14 L-30,18 A18,18 0 0 1 -30,-18 Z" fill="#181818" filter="url(#temblur)"/>
<circle cx="-23.8" cy="-12.7" r="2.5" fill="#3c3c3c" opacity="0.45" filter="url(#blur1)"/>
<circle cx="-36.9" cy="-15.4" r="2.9" fill="#0a0a0a" opacity="0.45" filter="url(#blur1)"/>
<circle cx="27.0" cy="8.5" r="2.1" fill="#0a0a0a" opacity="0.45" filter="url(#blur1)"/>
<circle cx="-20.1" cy="-10.5" r="1.8" fill="#3c3c3c" opacity="0.45" filter="url(#blur1)"/>
<circle cx="39.9" cy="-15.2" r="3.1" fill="#0a0a0a" opacity="0.45" filter="url(#blur1)"/>
<circle cx="27.0" cy="-9.8" r="2.3" fill="#0a0a0a" opacity="0.45" filter="url(#blur1)"/>
<circle cx="-37.2" cy="3.4" r="3.2" fill="#3c3c3c" opacity="0.45" filter="url(#blur1)"/>
<circle cx="-29.0" cy="-0.8" r="1.7" fill="#0a0a0a" opacity="0.45" filter="url(#blur1)"/>
<circle cx="-44.4" cy="-6.7" r="3.3" fill="#0a0a0a" opacity="0.45" filter="url(#blur1)"/>
<circle cx="31.3" cy="0.3" r="2.5" fill="#0a0a0a" opacity="0.45" filter="url(#blur1)"/>
<circle cx="-6.2" cy="-10.8" r="2.3" fill="#3c3c3c" opacity="0.45" filter="url(#blur1)"/>
<circle cx="-37.7" cy="-1.2" r="4.0" fill="#0a0a0a" opacity="0.45" filter="url(#blur1)"/>
<circle cx="18.1" cy="-11.4" r="3.2" fill="#3c3c3c" opacity="0.45" filter="url(#blur1)"/>
<circle cx="-7.8" cy="-9.5" r="3.1" fill="#0a0a0a" opacity="0.45" filter="url(#blur1)"/>
<circle cx="-28.5" cy="-2.1" r="3.0" fill="#3c3c3c" opacity="0.45" filter="url(#blur1)"/>
<circle cx="36.4" cy="-12.8" r="1.7" fill="#3c3c3c" opacity="0.45" filter="url(#blur1)"/>
<circle cx="-20.0" cy="2.6" r="3.7" fill="#3c3c3c" opacity="0.45" filter="url(#blur1)"/>
<circle cx="-15.2" cy="-10.3" r="2.6" fill="#3c3c3c" opacity="0.45" filter="url(#blur1)"/>
<circle cx="-12.9" cy="-13.4" r="3.9" fill="#0a0a0a" opacity="0.45" filter="url(#blur1)"/>
<circle cx="21.1" cy="14.7" r="1.5" fill="#0a0a0a" opacity="0.45" filter="url(#blur1)"/>
<circle cx="-16.0" cy="-11.1" r="3.1" fill="#3c3c3c" opacity="0.45" filter="url(#blur1)"/>
<circle cx="-18.6" cy="-9.9" r="2.6" fill="#3c3c3c" opacity="0.45" filter="url(#blur1)"/>
<circle cx="-22.5" cy="3.2" r="1.9" fill="#3c3c3c" opacity="0.45" filter="url(#blur1)"/>
<circle cx="-12.3" cy="-1.4" r="2.4" fill="#0a0a0a" opacity="0.45" filter="url(#blur1)"/>
<circle cx="44.7" cy="2.3" r="2.6" fill="#3c3c3c" opacity="0.45" filter="url(#blur1)"/>
<circle cx="-6.8" cy="-9.3" r="1.6" fill="#3c3c3c" opacity="0.45" filter="url(#blur1)"/>
<circle cx="21.3" cy="3.1" r="3.9" fill="#3c3c3c" opacity="0.45" filter="url(#blur1)"/>
<circle cx="4.2" cy="2.6" r="2.3" fill="#3c3c3c" opacity="0.45" filter="url(#blur1)"/>
<circle cx="-34.0" cy="0.9" r="3.4" fill="#0a0a0a" opacity="0.45" filter="url(#blur1)"/>
<circle cx="13.6" cy="-9.6" r="2.0" fill="#0a0a0a" opacity="0.45" filter="url(#blur1)"/>
<circle cx="-8.0" cy="-14.8" r="2.6" fill="#3c3c3c" opacity="0.45" filter="url(#blur1)"/>
<circle cx="13.3" cy="-2.3" r="2.0" fill="#3c3c3c" opacity="0.45" filter="url(#blur1)"/>
<circle cx="-42.2" cy="-7.9" r="2.1" fill="#3c3c3c" opacity="0.45" filter="url(#blur1)"/>
<circle cx="24.5" cy="-2.7" r="2.2" fill="#0a0a0a" opacity="0.45" filter="url(#blur1)"/>
<circle cx="-40.4" cy="13.7" r="2.9" fill="#0a0a0a" opacity="0.45" filter="url(#blur1)"/>
<circle cx="41.6" cy="4.9" r="3.7" fill="#3c3c3c" opacity="0.45" filter="url(#blur1)"/>
<circle cx="-0.5" cy="-13.0" r="2.0" fill="#3c3c3c" opacity="0.45" filter="url(#blur1)"/>
<circle cx="-14.7" cy="5.0" r="3.5" fill="#0a0a0a" opacity="0.45" filter="url(#blur1)"/>
<circle cx="28.3" cy="0.9" r="3.1" fill="#0a0a0a" opacity="0.45" filter="url(#blur1)"/>
<circle cx="-14.5" cy="-3.5" r="2.7" fill="#0a0a0a" opacity="0.45" filter="url(#blur1)"/>
<circle cx="41.6" cy="5.4" r="1.6" fill="#3c3c3c" opacity="0.45" filter="url(#blur1)"/>
<circle cx="24.0" cy="-7.4" r="3.6" fill="#3c3c3c" opacity="0.45" filter="url(#blur1)"/>
<circle cx="16.9" cy="-1.1" r="2.7" fill="#0a0a0a" opacity="0.45" filter="url(#blur1)"/>
<circle cx="38.5" cy="-9.0" r="1.5" fill="#3c3c3c" opacity="0.45" filter="url(#blur1)"/>
<circle cx="-43.8" cy="12.0" r="1.8" fill="#0a0a0a" opacity="0.45" filter="url(#blur1)"/>
</g>
<circle cx="382.9" cy="510.9" r="0.60" fill="#050505" opacity="0.75"/>
<circle cx="406.3" cy="523.6" r="0.56" fill="#050505" opacity="0.75"/>
<circle cx="399.0" cy="510.2" r="0.53" fill="#050505" opacity="0.75"/>
<circle cx="389.8" cy="528.8" r="0.82" fill="#050505" opacity="0.75"/>
<circle cx="393.3" cy="480.4" r="0.67" fill="#050505" opacity="0.75"/>
<circle cx="362.7" cy="547.1" r="1.15" fill="#050505" opacity="0.75"/>
<circle cx="407.8" cy="511.8" r="0.77" fill="#050505" opacity="0.75"/>
<circle cx="382.3" cy="535.9" r="1.01" fill="#050505" opacity="0.75"/>
<circle cx="368.7" cy="505.8" r="0.69" fill="#050505" opacity="0.75"/>
<circle cx="361.0" cy="531.1" r="1.07" fill="#050505" opacity="0.75"/>
<circle cx="384.0" cy="550.8" r="1.12" fill="#050505" opacity="0.75"/>
<circle cx="353.7" cy="548.2" r="0.84" fill="#050505" opacity="0.75"/>
<circle cx="353.2" cy="552.5" r="1.13" fill="#050505" opacity="0.75"/>
<circle cx="366.3" cy="549.8" r="0.58" fill="#050505" opacity="0.75"/>
<circle cx="411.7" cy="516.6" r="0.64" fill="#050505" opacity="0.75"/>
<circle cx="360.5" cy="549.1" r="1.14" fill="#050505" opacity="0.75"/>
<circle cx="380.8" cy="515.6" r="0.95" fill="#050505" opacity="0.75"/>
<circle cx="364.3" cy="550.9" r="0.62" fill="#050505" opacity="0.75"/>
<circle cx="360.5" cy="553.7" r="0.92" fill="#050505" opacity="0.75"/>
<circle cx="356.2" cy="536.2" r="1.20" fill="#050505" opacity="0.75"/>
<circle cx="375.9" cy="538.9" r="0.53" fill="#050505" opacity="0.75"/>
<circle cx="387.7" cy="529.1" r="0.91" fill="#050505" opacity="0.75"/>
<circle cx="393.8" cy="536.7" r="0.91" fill="#050505" opacity="0.75"/>
<circle cx="383.2" cy="512.9" r="1.19" fill="#050505" opacity="0.75"/>
<circle cx="405.4" cy="479.0" r="0.80" fill="#050505" opacity="0.75"/>
<circle cx="367.7" cy="535.8" r="0.73" fill="#050505" opacity="0.75"/>
<circle cx="365.9" cy="552.9" r="0.57" fill="#050505" opacity="0.75"/>
<circle cx="422.8" cy="495.5" r="0.85" fill="#050505" opacity="0.75"/>
<circle cx="395.7" cy="484.6" r="1.02" fill="#050505" opacity="0.75"/>
<circle cx="374.6" cy="510.0" r="1.17" fill="#050505" opacity="0.75"/>
<circle cx="378.4" cy="516.6" r="1.10" fill="#050505" opacity="0.75"/>
<circle cx="387.7" cy="528.6" r="0.62" fill="#050505" opacity="0.75"/>
<circle cx="405.8" cy="472.8" r="0.54" fill="#050505" opacity="0.75"/>
<circle cx="347.4" cy="542.4" r="0.77" fill="#050505" opacity="0.75"/>
<circle cx="365.9" cy="513.6" r="0.89" fill="#050505" opacity="0.75"/>
<circle cx="348.2" cy="531.6" r="0.89" fill="#050505" opacity="0.75"/>
<circle cx="395.0" cy="522.2" r="1.03" fill="#050505" opacity="0.75"/>
<circle cx="397.2" cy="534.2" r="0.62" fill="#050505" opacity="0.75"/>
<circle cx="416.7" cy="500.4" r="1.12" fill="#050505" opacity="0.75"/>
<circle cx="374.4" cy="499.6" r="0.53" fill="#050505" opacity="0.75"/>
<circle cx="379.8" cy="498.7" r="0.94" fill="#050505" opacity="0.75"/>
<circle cx="371.5" cy="558.0" r="0.66" fill="#050505" opacity="0.75"/>
<circle cx="389.7" cy="517.3" r="0.77" fill="#050505" opacity="0.75"/>
<circle cx="366.2" cy="540.7" r="1.16" fill="#050505" opacity="0.75"/>
<circle cx="420.3" cy="477.5" r="0.87" fill="#050505" opacity="0.75"/>
<circle cx="409.2" cy="520.8" r="0.55" fill="#050505" opacity="0.75"/>
<circle cx="402.4" cy="499.8" r="0.71" fill="#050505" opacity="0.75"/>
<circle cx="415.4" cy="497.9" r="0.57" fill="#050505" opacity="0.75"/>
<circle cx="403.1" cy="491.9" r="0.84" fill="#050505" opacity="0.75"/>
<circle cx="392.9" cy="498.2" r="1.12" fill="#050505" opacity="0.75"/>
<circle cx="383.8" cy="546.0" r="1.01" fill="#050505" opacity="0.75"/>
<circle cx="414.2" cy="511.8" r="0.53" fill="#050505" opacity="0.75"/>
<circle cx="401.9" cy="506.2" r="0.97" fill="#050505" opacity="0.75"/>
<circle cx="366.9" cy="506.6" r="0.63" fill="#050505" opacity="0.75"/>
<circle cx="385.8" cy="491.8" r="0.55" fill="#050505" opacity="0.75"/>
<circle cx="378.9" cy="523.8" r="0.87" fill="#050505" opacity="0.75"/>
<circle cx="389.6" cy="535.4" r="0.51" fill="#050505" opacity="0.75"/>
<circle cx="426.8" cy="473.0" r="1.18" fill="#050505" opacity="0.75"/>
<circle cx="356.2" cy="542.6" r="0.66" fill="#050505" opacity="0.75"/>
<circle cx="398.6" cy="476.5" r="0.65" fill="#050505" opacity="0.75"/>
<circle cx="347.6" cy="535.1" r="1.16" fill="#050505" opacity="0.75"/>
<circle cx="406.6" cy="488.6" r="0.87" fill="#050505" opacity="0.75"/>
<circle cx="386.4" cy="527.5" r="0.67" fill="#050505" opacity="0.75"/>
<circle cx="373.6" cy="534.2" r="0.64" fill="#050505" opacity="0.75"/>
<circle cx="386.4" cy="545.0" r="0.92" fill="#050505" opacity="0.75"/>
<circle cx="353.1" cy="523.2" r="0.69" fill="#050505" opacity="0.75"/>
<circle cx="387.9" cy="539.0" r="1.18" fill="#050505" opacity="0.75"/>
<circle cx="354.1" cy="542.7" r="0.67" fill="#050505" opacity="0.75"/>
<circle cx="397.7" cy="501.8" r="0.74" fill="#050505" opacity="0.75"/>
<circle cx="410.8" cy="477.7" r="0.65" fill="#050505" opacity="0.75"/>
<circle cx="372.9" cy="530.6" r="0.93" fill="#050505" opacity="0.75"/>
<circle cx="393.1" cy="503.4" r="0.63" fill="#050505" opacity="0.75"/>
<circle cx="376.6" cy="515.0" r="0.62" fill="#050505" opacity="0.75"/>
<circle cx="381.5" cy="497.8" r="1.00" fill="#050505" opacity="0.75"/>
<circle cx="387.7" cy="485.8" r="0.94" fill="#050505" opacity="0.75"/>
<circle cx="376.7" cy="524.6" r="0.92" fill="#050505" opacity="0.75"/>
<circle cx="424.4" cy="499.6" r="1.01" fill="#050505" opacity="0.75"/>
<circle cx="371.3" cy="539.1" r="0.73" fill="#050505" opacity="0.75"/>
<circle cx="357.9" cy="556.8" r="0.83" fill="#050505" opacity="0.75"/>
<circle cx="410.0" cy="472.7" r="1.08" fill="#050505" opacity="0.75"/>
<circle cx="375.8" cy="497.8" r="1.00" fill="#050505" opacity="0.75"/>
<circle cx="376.3" cy="532.1" r="0.55" fill="#050505" opacity="0.75"/>
<rect x="417" y="560" width="29" height="1.6" fill="#fff"/>
</g>
<text x="457.5" y="282.8" font-size="18" fill="#111" stroke="#111" stroke-width="0.45" text-anchor="start" >I</text>
<rect x="483.3" y="283.2" width="150.90000000000003" height="120.60000000000002" fill="none" stroke="#111" stroke-width="1.3"/>
<line x1="493.6" y1="403.8" x2="493.6" y2="406.3" stroke="#111" stroke-width="0.9"/>
<text x="493.6" y="413.9" font-size="7.5" fill="#111" stroke="#111" stroke-width="0.26" text-anchor="middle" >0</text>
<line x1="513.6" y1="403.8" x2="513.6" y2="406.3" stroke="#111" stroke-width="0.9"/>
<text x="513.6" y="413.9" font-size="7.5" fill="#111" stroke="#111" stroke-width="0.26" text-anchor="middle" >100</text>
<line x1="533.7" y1="403.8" x2="533.7" y2="406.3" stroke="#111" stroke-width="0.9"/>
<text x="533.7" y="413.9" font-size="7.5" fill="#111" stroke="#111" stroke-width="0.26" text-anchor="middle" >200</text>
<line x1="553.8" y1="403.8" x2="553.8" y2="406.3" stroke="#111" stroke-width="0.9"/>
<text x="553.8" y="413.9" font-size="7.5" fill="#111" stroke="#111" stroke-width="0.26" text-anchor="middle" >300</text>
<line x1="573.8" y1="403.8" x2="573.8" y2="406.3" stroke="#111" stroke-width="0.9"/>
<text x="573.8" y="413.9" font-size="7.5" fill="#111" stroke="#111" stroke-width="0.26" text-anchor="middle" >400</text>
<line x1="593.9" y1="403.8" x2="593.9" y2="406.3" stroke="#111" stroke-width="0.9"/>
<text x="593.9" y="413.9" font-size="7.5" fill="#111" stroke="#111" stroke-width="0.26" text-anchor="middle" >500</text>
<line x1="613.9" y1="403.8" x2="613.9" y2="406.3" stroke="#111" stroke-width="0.9"/>
<text x="613.9" y="413.9" font-size="7.5" fill="#111" stroke="#111" stroke-width="0.26" text-anchor="middle" >600</text>
<line x1="634.0" y1="403.8" x2="634.0" y2="406.3" stroke="#111" stroke-width="0.9"/>
<text x="634.0" y="413.9" font-size="7.5" fill="#111" stroke="#111" stroke-width="0.26" text-anchor="middle" >700</text>
<line x1="480.8" y1="391.6" x2="483.3" y2="391.6" stroke="#111" stroke-width="0.9"/>
<text x="479.6" y="394.3" font-size="7.5" fill="#111" stroke="#111" stroke-width="0.26" text-anchor="end" >0.0</text>
<line x1="480.8" y1="367.5" x2="483.3" y2="367.5" stroke="#111" stroke-width="0.9"/>
<text x="479.6" y="370.2" font-size="7.5" fill="#111" stroke="#111" stroke-width="0.26" text-anchor="end" >0.2</text>
<line x1="480.8" y1="343.3" x2="483.3" y2="343.3" stroke="#111" stroke-width="0.9"/>
<text x="479.6" y="346.0" font-size="7.5" fill="#111" stroke="#111" stroke-width="0.26" text-anchor="end" >0.4</text>
<line x1="480.8" y1="319.2" x2="483.3" y2="319.2" stroke="#111" stroke-width="0.9"/>
<text x="479.6" y="321.9" font-size="7.5" fill="#111" stroke="#111" stroke-width="0.26" text-anchor="end" >0.6</text>
<line x1="480.8" y1="295.0" x2="483.3" y2="295.0" stroke="#111" stroke-width="0.9"/>
<text x="479.6" y="297.7" font-size="7.5" fill="#111" stroke="#111" stroke-width="0.26" text-anchor="end" >0.8</text>
<line x1="483.6" y1="403.8" x2="483.6" y2="405.1" stroke="#111" stroke-width="0.7"/>
<line x1="503.6" y1="403.8" x2="503.6" y2="405.1" stroke="#111" stroke-width="0.7"/>
<line x1="523.7" y1="403.8" x2="523.7" y2="405.1" stroke="#111" stroke-width="0.7"/>
<line x1="543.7" y1="403.8" x2="543.7" y2="405.1" stroke="#111" stroke-width="0.7"/>
<line x1="563.8" y1="403.8" x2="563.8" y2="405.1" stroke="#111" stroke-width="0.7"/>
<line x1="583.8" y1="403.8" x2="583.8" y2="405.1" stroke="#111" stroke-width="0.7"/>
<line x1="603.9" y1="403.8" x2="603.9" y2="405.1" stroke="#111" stroke-width="0.7"/>
<line x1="623.9" y1="403.8" x2="623.9" y2="405.1" stroke="#111" stroke-width="0.7"/>
<line x1="482.0" y1="379.5" x2="483.3" y2="379.5" stroke="#111" stroke-width="0.7"/>
<line x1="482.0" y1="355.4" x2="483.3" y2="355.4" stroke="#111" stroke-width="0.7"/>
<line x1="482.0" y1="331.2" x2="483.3" y2="331.2" stroke="#111" stroke-width="0.7"/>
<line x1="482.0" y1="307.1" x2="483.3" y2="307.1" stroke="#111" stroke-width="0.7"/>
<text x="558.7" y="425.4" font-size="8" fill="#111" stroke="#111" stroke-width="0.28" text-anchor="middle" >Time (min)</text>
<text x="464.2" y="339.3" font-size="8" fill="#111" stroke="#111" stroke-width="0.28" text-anchor="middle" transform="rotate(-90 464.2 339.3)">Absorbance (a.u.)</text>
<polyline points="493.6,391.6 497.6,379.5 501.6,379.5 505.6,379.5 517.7,379.5 559.8,379.5 619.9,379.5" fill="none" stroke="#f0a040" stroke-width="1.5" stroke-linejoin="round" />
<polygon points="493.6,389.3 495.8,393.2 491.4,393.2" fill="#f0a040"/>
<line x1="497.6" y1="377.1" x2="497.6" y2="381.9" stroke="#f0a040" stroke-width="0.9"/>
<line x1="495.8" y1="377.1" x2="499.4" y2="377.1" stroke="#f0a040" stroke-width="0.9"/>
<line x1="495.8" y1="381.9" x2="499.4" y2="381.9" stroke="#f0a040" stroke-width="0.9"/>
<polygon points="497.6,377.2 499.8,381.1 495.4,381.1" fill="#f0a040"/>
<line x1="501.6" y1="377.1" x2="501.6" y2="381.9" stroke="#f0a040" stroke-width="0.9"/>
<line x1="499.8" y1="377.1" x2="503.4" y2="377.1" stroke="#f0a040" stroke-width="0.9"/>
<line x1="499.8" y1="381.9" x2="503.4" y2="381.9" stroke="#f0a040" stroke-width="0.9"/>
<polygon points="501.6,377.2 503.8,381.1 499.4,381.1" fill="#f0a040"/>
<line x1="505.6" y1="377.1" x2="505.6" y2="381.9" stroke="#f0a040" stroke-width="0.9"/>
<line x1="503.8" y1="377.1" x2="507.4" y2="377.1" stroke="#f0a040" stroke-width="0.9"/>
<line x1="503.8" y1="381.9" x2="507.4" y2="381.9" stroke="#f0a040" stroke-width="0.9"/>
<polygon points="505.6,377.2 507.8,381.1 503.4,381.1" fill="#f0a040"/>
<line x1="517.7" y1="377.1" x2="517.7" y2="381.9" stroke="#f0a040" stroke-width="0.9"/>
<line x1="515.9" y1="377.1" x2="519.5" y2="377.1" stroke="#f0a040" stroke-width="0.9"/>
<line x1="515.9" y1="381.9" x2="519.5" y2="381.9" stroke="#f0a040" stroke-width="0.9"/>
<polygon points="517.7,377.2 519.9,381.1 515.5,381.1" fill="#f0a040"/>
<line x1="559.8" y1="377.1" x2="559.8" y2="381.9" stroke="#f0a040" stroke-width="0.9"/>
<line x1="558.0" y1="377.1" x2="561.6" y2="377.1" stroke="#f0a040" stroke-width="0.9"/>
<line x1="558.0" y1="381.9" x2="561.6" y2="381.9" stroke="#f0a040" stroke-width="0.9"/>
<polygon points="559.8,377.2 562.0,381.1 557.6,381.1" fill="#f0a040"/>
<line x1="619.9" y1="377.1" x2="619.9" y2="381.9" stroke="#f0a040" stroke-width="0.9"/>
<line x1="618.1" y1="377.1" x2="621.7" y2="377.1" stroke="#f0a040" stroke-width="0.9"/>
<line x1="618.1" y1="381.9" x2="621.7" y2="381.9" stroke="#f0a040" stroke-width="0.9"/>
<polygon points="619.9,377.2 622.1,381.1 617.7,381.1" fill="#f0a040"/>
<text x="576.5" y="377.0" font-size="6.8" fill="#f0a040" stroke="#f0a040" stroke-width="0.24" text-anchor="start" >1.5 mg/mL</text>
<polyline points="493.6,391.6 497.6,379.5 501.6,378.9 505.6,379.5 517.7,378.9 559.8,379.5 619.9,378.3" fill="none" stroke="#505050" stroke-width="1.5" stroke-linejoin="round" />
<polygon points="493.6,393.9 495.8,390.0 491.4,390.0" fill="#505050"/>
<line x1="497.6" y1="375.9" x2="497.6" y2="383.1" stroke="#505050" stroke-width="0.9"/>
<line x1="495.8" y1="375.9" x2="499.4" y2="375.9" stroke="#505050" stroke-width="0.9"/>
<line x1="495.8" y1="383.1" x2="499.4" y2="383.1" stroke="#505050" stroke-width="0.9"/>
<polygon points="497.6,381.8 499.8,377.9 495.4,377.9" fill="#505050"/>
<line x1="501.6" y1="375.3" x2="501.6" y2="382.5" stroke="#505050" stroke-width="0.9"/>
<line x1="499.8" y1="375.3" x2="503.4" y2="375.3" stroke="#505050" stroke-width="0.9"/>
<line x1="499.8" y1="382.5" x2="503.4" y2="382.5" stroke="#505050" stroke-width="0.9"/>
<polygon points="501.6,381.2 503.8,377.3 499.4,377.3" fill="#505050"/>
<line x1="505.6" y1="375.3" x2="505.6" y2="383.8" stroke="#505050" stroke-width="0.9"/>
<line x1="503.8" y1="375.3" x2="507.4" y2="375.3" stroke="#505050" stroke-width="0.9"/>
<line x1="503.8" y1="383.8" x2="507.4" y2="383.8" stroke="#505050" stroke-width="0.9"/>
<polygon points="505.6,381.8 507.8,377.9 503.4,377.9" fill="#505050"/>
<line x1="517.7" y1="375.3" x2="517.7" y2="382.5" stroke="#505050" stroke-width="0.9"/>
<line x1="515.9" y1="375.3" x2="519.5" y2="375.3" stroke="#505050" stroke-width="0.9"/>
<line x1="515.9" y1="382.5" x2="519.5" y2="382.5" stroke="#505050" stroke-width="0.9"/>
<polygon points="517.7,381.2 519.9,377.3 515.5,377.3" fill="#505050"/>
<line x1="559.8" y1="376.5" x2="559.8" y2="382.5" stroke="#505050" stroke-width="0.9"/>
<line x1="558.0" y1="376.5" x2="561.6" y2="376.5" stroke="#505050" stroke-width="0.9"/>
<line x1="558.0" y1="382.5" x2="561.6" y2="382.5" stroke="#505050" stroke-width="0.9"/>
<polygon points="559.8,381.8 562.0,377.9 557.6,377.9" fill="#505050"/>
<line x1="619.9" y1="374.1" x2="619.9" y2="382.5" stroke="#505050" stroke-width="0.9"/>
<line x1="618.1" y1="374.1" x2="621.7" y2="374.1" stroke="#505050" stroke-width="0.9"/>
<line x1="618.1" y1="382.5" x2="621.7" y2="382.5" stroke="#505050" stroke-width="0.9"/>
<polygon points="619.9,380.6 622.1,376.7 617.7,376.7" fill="#505050"/>
<text x="576.5" y="389.4" font-size="6.8" fill="#505050" stroke="#505050" stroke-width="0.24" text-anchor="start" >2 mg/mL</text>
<polyline points="493.6,391.6 497.6,366.2 501.6,365.6 505.6,365.6 517.7,366.8 559.8,368.1 619.9,366.8" fill="none" stroke="#f08080" stroke-width="1.5" stroke-linejoin="round" />
<polygon points="493.6,389.3 495.8,393.2 491.4,393.2" fill="#f08080"/>
<line x1="497.6" y1="363.8" x2="497.6" y2="368.7" stroke="#f08080" stroke-width="0.9"/>
<line x1="495.8" y1="363.8" x2="499.4" y2="363.8" stroke="#f08080" stroke-width="0.9"/>
<line x1="495.8" y1="368.7" x2="499.4" y2="368.7" stroke="#f08080" stroke-width="0.9"/>
<polygon points="497.6,363.9 499.8,367.8 495.4,367.8" fill="#f08080"/>
<line x1="501.6" y1="363.2" x2="501.6" y2="368.1" stroke="#f08080" stroke-width="0.9"/>
<line x1="499.8" y1="363.2" x2="503.4" y2="363.2" stroke="#f08080" stroke-width="0.9"/>
<line x1="499.8" y1="368.1" x2="503.4" y2="368.1" stroke="#f08080" stroke-width="0.9"/>
<polygon points="501.6,363.3 503.8,367.2 499.4,367.2" fill="#f08080"/>
<line x1="505.6" y1="362.0" x2="505.6" y2="369.3" stroke="#f08080" stroke-width="0.9"/>
<line x1="503.8" y1="362.0" x2="507.4" y2="362.0" stroke="#f08080" stroke-width="0.9"/>
<line x1="503.8" y1="369.3" x2="507.4" y2="369.3" stroke="#f08080" stroke-width="0.9"/>
<polygon points="505.6,363.3 507.8,367.2 503.4,367.2" fill="#f08080"/>
<line x1="517.7" y1="359.6" x2="517.7" y2="374.1" stroke="#f08080" stroke-width="0.9"/>
<line x1="515.9" y1="359.6" x2="519.5" y2="359.6" stroke="#f08080" stroke-width="0.9"/>
<line x1="515.9" y1="374.1" x2="519.5" y2="374.1" stroke="#f08080" stroke-width="0.9"/>
<polygon points="517.7,364.5 519.9,368.4 515.5,368.4" fill="#f08080"/>
<line x1="559.8" y1="362.0" x2="559.8" y2="374.1" stroke="#f08080" stroke-width="0.9"/>
<line x1="558.0" y1="362.0" x2="561.6" y2="362.0" stroke="#f08080" stroke-width="0.9"/>
<line x1="558.0" y1="374.1" x2="561.6" y2="374.1" stroke="#f08080" stroke-width="0.9"/>
<polygon points="559.8,365.8 562.0,369.7 557.6,369.7" fill="#f08080"/>
<line x1="619.9" y1="363.2" x2="619.9" y2="370.5" stroke="#f08080" stroke-width="0.9"/>
<line x1="618.1" y1="363.2" x2="621.7" y2="363.2" stroke="#f08080" stroke-width="0.9"/>
<line x1="618.1" y1="370.5" x2="621.7" y2="370.5" stroke="#f08080" stroke-width="0.9"/>
<polygon points="619.9,364.5 622.1,368.4 617.7,368.4" fill="#f08080"/>
<text x="579.8" y="363.8" font-size="6.8" fill="#f08080" stroke="#f08080" stroke-width="0.24" text-anchor="start" >1 mg/mL</text>
<polyline points="493.6,391.6 497.6,357.8 501.6,353.0 505.6,350.5 517.7,349.9 559.8,348.7 619.9,350.5" fill="none" stroke="#1e7fd8" stroke-width="1.5" stroke-linejoin="round" />
<circle cx="493.6" cy="391.6" r="2.1" fill="#1e7fd8"/>
<line x1="497.6" y1="353.0" x2="497.6" y2="362.6" stroke="#1e7fd8" stroke-width="0.9"/>
<line x1="495.8" y1="353.0" x2="499.4" y2="353.0" stroke="#1e7fd8" stroke-width="0.9"/>
<line x1="495.8" y1="362.6" x2="499.4" y2="362.6" stroke="#1e7fd8" stroke-width="0.9"/>
<circle cx="497.6" cy="357.8" r="2.1" fill="#1e7fd8"/>
<line x1="501.6" y1="348.1" x2="501.6" y2="357.8" stroke="#1e7fd8" stroke-width="0.9"/>
<line x1="499.8" y1="348.1" x2="503.4" y2="348.1" stroke="#1e7fd8" stroke-width="0.9"/>
<line x1="499.8" y1="357.8" x2="503.4" y2="357.8" stroke="#1e7fd8" stroke-width="0.9"/>
<circle cx="501.6" cy="353.0" r="2.1" fill="#1e7fd8"/>
<line x1="505.6" y1="348.1" x2="505.6" y2="353.0" stroke="#1e7fd8" stroke-width="0.9"/>
<line x1="503.8" y1="348.1" x2="507.4" y2="348.1" stroke="#1e7fd8" stroke-width="0.9"/>
<line x1="503.8" y1="353.0" x2="507.4" y2="353.0" stroke="#1e7fd8" stroke-width="0.9"/>
<circle cx="505.6" cy="350.5" r="2.1" fill="#1e7fd8"/>
<line x1="517.7" y1="346.3" x2="517.7" y2="353.6" stroke="#1e7fd8" stroke-width="0.9"/>
<line x1="515.9" y1="346.3" x2="519.5" y2="346.3" stroke="#1e7fd8" stroke-width="0.9"/>
<line x1="515.9" y1="353.6" x2="519.5" y2="353.6" stroke="#1e7fd8" stroke-width="0.9"/>
<circle cx="517.7" cy="349.9" r="2.1" fill="#1e7fd8"/>
<line x1="559.8" y1="345.1" x2="559.8" y2="352.4" stroke="#1e7fd8" stroke-width="0.9"/>
<line x1="558.0" y1="345.1" x2="561.6" y2="345.1" stroke="#1e7fd8" stroke-width="0.9"/>
<line x1="558.0" y1="352.4" x2="561.6" y2="352.4" stroke="#1e7fd8" stroke-width="0.9"/>
<circle cx="559.8" cy="348.7" r="2.1" fill="#1e7fd8"/>
<line x1="619.9" y1="345.1" x2="619.9" y2="356.0" stroke="#1e7fd8" stroke-width="0.9"/>
<line x1="618.1" y1="345.1" x2="621.7" y2="345.1" stroke="#1e7fd8" stroke-width="0.9"/>
<line x1="618.1" y1="356.0" x2="621.7" y2="356.0" stroke="#1e7fd8" stroke-width="0.9"/>
<circle cx="619.9" cy="350.5" r="2.1" fill="#1e7fd8"/>
<text x="574.8" y="346.8" font-size="6.8" fill="#1e7fd8" stroke="#1e7fd8" stroke-width="0.24" text-anchor="start" >0.2 mg/mL</text>
<polyline points="493.6,391.6 497.6,344.5 501.6,319.2 505.6,316.1 517.7,304.7 559.8,304.1 619.9,303.5" fill="none" stroke="#22b068" stroke-width="1.5" stroke-linejoin="round" />
<rect x="491.6" y="389.6" width="4" height="4" fill="#22b068"/>
<line x1="497.6" y1="342.1" x2="497.6" y2="346.9" stroke="#22b068" stroke-width="0.9"/>
<line x1="495.8" y1="342.1" x2="499.4" y2="342.1" stroke="#22b068" stroke-width="0.9"/>
<line x1="495.8" y1="346.9" x2="499.4" y2="346.9" stroke="#22b068" stroke-width="0.9"/>
<rect x="495.6" y="342.5" width="4" height="4" fill="#22b068"/>
<line x1="501.6" y1="313.7" x2="501.6" y2="324.6" stroke="#22b068" stroke-width="0.9"/>
<line x1="499.8" y1="313.7" x2="503.4" y2="313.7" stroke="#22b068" stroke-width="0.9"/>
<line x1="499.8" y1="324.6" x2="503.4" y2="324.6" stroke="#22b068" stroke-width="0.9"/>
<rect x="499.6" y="317.2" width="4" height="4" fill="#22b068"/>
<line x1="505.6" y1="311.9" x2="505.6" y2="320.4" stroke="#22b068" stroke-width="0.9"/>
<line x1="503.8" y1="311.9" x2="507.4" y2="311.9" stroke="#22b068" stroke-width="0.9"/>
<line x1="503.8" y1="320.4" x2="507.4" y2="320.4" stroke="#22b068" stroke-width="0.9"/>
<rect x="503.6" y="314.1" width="4" height="4" fill="#22b068"/>
<line x1="517.7" y1="298.6" x2="517.7" y2="310.7" stroke="#22b068" stroke-width="0.9"/>
<line x1="515.9" y1="298.6" x2="519.5" y2="298.6" stroke="#22b068" stroke-width="0.9"/>
<line x1="515.9" y1="310.7" x2="519.5" y2="310.7" stroke="#22b068" stroke-width="0.9"/>
<rect x="515.7" y="302.7" width="4" height="4" fill="#22b068"/>
<line x1="559.8" y1="298.0" x2="559.8" y2="310.1" stroke="#22b068" stroke-width="0.9"/>
<line x1="558.0" y1="298.0" x2="561.6" y2="298.0" stroke="#22b068" stroke-width="0.9"/>
<line x1="558.0" y1="310.1" x2="561.6" y2="310.1" stroke="#22b068" stroke-width="0.9"/>
<rect x="557.8" y="302.1" width="4" height="4" fill="#22b068"/>
<line x1="619.9" y1="296.8" x2="619.9" y2="310.1" stroke="#22b068" stroke-width="0.9"/>
<line x1="618.1" y1="296.8" x2="621.7" y2="296.8" stroke="#22b068" stroke-width="0.9"/>
<line x1="618.1" y1="310.1" x2="621.7" y2="310.1" stroke="#22b068" stroke-width="0.9"/>
<rect x="617.9" y="301.5" width="4" height="4" fill="#22b068"/>
<text x="574.8" y="301.2" font-size="6.8" fill="#22b068" stroke="#22b068" stroke-width="0.24" text-anchor="start" >0.1 mg/mL</text>
<circle cx="493.6" cy="391.6" r="2" fill="#777"/>
<text x="458.5" y="439.0" font-size="18" fill="#111" stroke="#111" stroke-width="0.45" text-anchor="start" >J</text>
<rect x="483.4" y="439.1" width="150.80000000000007" height="122.29999999999995" fill="none" stroke="#111" stroke-width="1.3"/>
<line x1="498.3" y1="561.4" x2="498.3" y2="563.9" stroke="#111" stroke-width="0.9"/>
<text x="498.3" y="571.5" font-size="7.5" fill="#111" stroke="#111" stroke-width="0.26" text-anchor="middle" >-0.5</text>
<line x1="528.4" y1="561.4" x2="528.4" y2="563.9" stroke="#111" stroke-width="0.9"/>
<text x="528.4" y="571.5" font-size="7.5" fill="#111" stroke="#111" stroke-width="0.26" text-anchor="middle" >-0.4</text>
<line x1="558.5" y1="561.4" x2="558.5" y2="563.9" stroke="#111" stroke-width="0.9"/>
<text x="558.5" y="571.5" font-size="7.5" fill="#111" stroke="#111" stroke-width="0.26" text-anchor="middle" >-0.3</text>
<line x1="588.6" y1="561.4" x2="588.6" y2="563.9" stroke="#111" stroke-width="0.9"/>
<text x="588.6" y="571.5" font-size="7.5" fill="#111" stroke="#111" stroke-width="0.26" text-anchor="middle" >-0.2</text>
<line x1="618.7" y1="561.4" x2="618.7" y2="563.9" stroke="#111" stroke-width="0.9"/>
<text x="618.7" y="571.5" font-size="7.5" fill="#111" stroke="#111" stroke-width="0.26" text-anchor="middle" >-0.1</text>
<line x1="480.9" y1="561.4" x2="483.4" y2="561.4" stroke="#111" stroke-width="0.9"/>
<text x="479.7" y="564.1" font-size="7.5" fill="#111" stroke="#111" stroke-width="0.26" text-anchor="end" >0</text>
<line x1="480.9" y1="534.2" x2="483.4" y2="534.2" stroke="#111" stroke-width="0.9"/>
<text x="479.7" y="537.0" font-size="7.5" fill="#111" stroke="#111" stroke-width="0.26" text-anchor="end" >2</text>
<line x1="480.9" y1="507.1" x2="483.4" y2="507.1" stroke="#111" stroke-width="0.9"/>
<text x="479.7" y="509.8" font-size="7.5" fill="#111" stroke="#111" stroke-width="0.26" text-anchor="end" >4</text>
<line x1="480.9" y1="479.9" x2="483.4" y2="479.9" stroke="#111" stroke-width="0.9"/>
<text x="479.7" y="482.6" font-size="7.5" fill="#111" stroke="#111" stroke-width="0.26" text-anchor="end" >6</text>
<line x1="480.9" y1="452.8" x2="483.4" y2="452.8" stroke="#111" stroke-width="0.9"/>
<text x="479.7" y="455.5" font-size="7.5" fill="#111" stroke="#111" stroke-width="0.26" text-anchor="end" >8</text>
<line x1="513.4" y1="561.4" x2="513.4" y2="562.6999999999999" stroke="#111" stroke-width="0.7"/>
<line x1="543.5" y1="561.4" x2="543.5" y2="562.6999999999999" stroke="#111" stroke-width="0.7"/>
<line x1="573.5" y1="561.4" x2="573.5" y2="562.6999999999999" stroke="#111" stroke-width="0.7"/>
<line x1="603.6" y1="561.4" x2="603.6" y2="562.6999999999999" stroke="#111" stroke-width="0.7"/>
<line x1="482.09999999999997" y1="547.8" x2="483.4" y2="547.8" stroke="#111" stroke-width="0.7"/>
<line x1="482.09999999999997" y1="520.7" x2="483.4" y2="520.7" stroke="#111" stroke-width="0.7"/>
<line x1="482.09999999999997" y1="493.5" x2="483.4" y2="493.5" stroke="#111" stroke-width="0.7"/>
<line x1="482.09999999999997" y1="466.4" x2="483.4" y2="466.4" stroke="#111" stroke-width="0.7"/>
<text x="558.0" y="583.3" font-size="8" fill="#111" stroke="#111" stroke-width="0.28" text-anchor="middle" >Potential (V)</text>
<text x="469.4" y="497.4" font-size="8" fill="#111" stroke="#111" stroke-width="0.28" text-anchor="middle" transform="rotate(-90 469.4 497.4)">Current (μA)</text>
<circle cx="495.3" cy="547.6" r="2.1" fill="#1f6fe0"/>
<circle cx="496.8" cy="547.6" r="2.1" fill="#1f6fe0"/>
<circle cx="498.3" cy="547.6" r="2.1" fill="#1f6fe0"/>
<circle cx="499.8" cy="547.6" r="2.1" fill="#1f6fe0"/>
<circle cx="501.3" cy="547.6" r="2.1" fill="#1f6fe0"/>
<circle cx="502.8" cy="547.7" r="2.1" fill="#1f6fe0"/>
<circle cx="504.3" cy="547.7" r="2.1" fill="#1f6fe0"/>
<circle cx="505.8" cy="547.7" r="2.1" fill="#1f6fe0"/>
<circle cx="507.3" cy="547.7" r="2.1" fill="#1f6fe0"/>
<circle cx="508.8" cy="547.8" r="2.1" fill="#1f6fe0"/>
<circle cx="510.3" cy="547.8" r="2.1" fill="#1f6fe0"/>
<circle cx="511.8" cy="547.8" r="2.1" fill="#1f6fe0"/>
<circle cx="513.4" cy="547.9" r="2.1" fill="#1f6fe0"/>
<circle cx="514.9" cy="547.9" r="2.1" fill="#1f6fe0"/>
<circle cx="516.4" cy="547.9" r="2.1" fill="#1f6fe0"/>
<circle cx="517.9" cy="548.0" r="2.1" fill="#1f6fe0"/>
<circle cx="519.4" cy="548.0" r="2.1" fill="#1f6fe0"/>
<circle cx="520.9" cy="548.0" r="2.1" fill="#1f6fe0"/>
<circle cx="522.4" cy="548.0" r="2.1" fill="#1f6fe0"/>
<circle cx="523.9" cy="548.0" r="2.1" fill="#1f6fe0"/>
<circle cx="525.4" cy="548.0" r="2.1" fill="#1f6fe0"/>
<circle cx="526.9" cy="548.0" r="2.1" fill="#1f6fe0"/>
<circle cx="528.4" cy="547.9" r="2.1" fill="#1f6fe0"/>
<circle cx="529.9" cy="547.6" r="2.1" fill="#1f6fe0"/>
<circle cx="531.4" cy="547.2" r="2.1" fill="#1f6fe0"/>
<circle cx="532.9" cy="546.6" r="2.1" fill="#1f6fe0"/>
<circle cx="534.4" cy="545.6" r="2.1" fill="#1f6fe0"/>
<circle cx="535.9" cy="544.2" r="2.1" fill="#1f6fe0"/>
<circle cx="537.4" cy="542.0" r="2.1" fill="#1f6fe0"/>
<circle cx="538.9" cy="539.1" r="2.1" fill="#1f6fe0"/>
<circle cx="540.4" cy="535.2" r="2.1" fill="#1f6fe0"/>
<circle cx="541.9" cy="530.2" r="2.1" fill="#1f6fe0"/>
<circle cx="543.5" cy="524.0" r="2.1" fill="#1f6fe0"/>
<circle cx="545.0" cy="516.6" r="2.1" fill="#1f6fe0"/>
<circle cx="546.5" cy="508.2" r="2.1" fill="#1f6fe0"/>
<circle cx="548.0" cy="498.9" r="2.1" fill="#1f6fe0"/>
<circle cx="549.5" cy="489.2" r="2.1" fill="#1f6fe0"/>
<circle cx="551.0" cy="479.7" r="2.1" fill="#1f6fe0"/>
<circle cx="552.5" cy="470.8" r="2.1" fill="#1f6fe0"/>
<circle cx="554.0" cy="463.4" r="2.1" fill="#1f6fe0"/>
<circle cx="555.5" cy="457.8" r="2.1" fill="#1f6fe0"/>
<circle cx="557.0" cy="454.7" r="2.1" fill="#1f6fe0"/>
<circle cx="558.5" cy="454.2" r="2.1" fill="#1f6fe0"/>
<circle cx="560.0" cy="456.4" r="2.1" fill="#1f6fe0"/>
<circle cx="561.5" cy="461.1" r="2.1" fill="#1f6fe0"/>
<circle cx="563.0" cy="468.0" r="2.1" fill="#1f6fe0"/>
<circle cx="564.5" cy="476.4" r="2.1" fill="#1f6fe0"/>
<circle cx="566.0" cy="485.9" r="2.1" fill="#1f6fe0"/>
<circle cx="567.5" cy="495.6" r="2.1" fill="#1f6fe0"/>
<circle cx="569.0" cy="505.2" r="2.1" fill="#1f6fe0"/>
<circle cx="570.5" cy="514.2" r="2.1" fill="#1f6fe0"/>
<circle cx="572.0" cy="522.1" r="2.1" fill="#1f6fe0"/>
<circle cx="573.6" cy="528.9" r="2.1" fill="#1f6fe0"/>
<circle cx="575.1" cy="534.5" r="2.1" fill="#1f6fe0"/>
<circle cx="576.6" cy="538.9" r="2.1" fill="#1f6fe0"/>
<circle cx="578.1" cy="542.2" r="2.1" fill="#1f6fe0"/>
<circle cx="579.6" cy="544.7" r="2.1" fill="#1f6fe0"/>
<circle cx="581.1" cy="546.5" r="2.1" fill="#1f6fe0"/>
<circle cx="582.6" cy="547.8" r="2.1" fill="#1f6fe0"/>
<circle cx="584.1" cy="548.7" r="2.1" fill="#1f6fe0"/>
<circle cx="585.6" cy="549.2" r="2.1" fill="#1f6fe0"/>
<circle cx="587.1" cy="549.6" r="2.1" fill="#1f6fe0"/>
<circle cx="588.6" cy="549.8" r="2.1" fill="#1f6fe0"/>
<circle cx="590.1" cy="550.0" r="2.1" fill="#1f6fe0"/>
<circle cx="591.6" cy="550.1" r="2.1" fill="#1f6fe0"/>
<circle cx="593.1" cy="550.2" r="2.1" fill="#1f6fe0"/>
<circle cx="594.6" cy="550.3" r="2.1" fill="#1f6fe0"/>
<circle cx="596.1" cy="550.4" r="2.1" fill="#1f6fe0"/>
<circle cx="597.6" cy="550.4" r="2.1" fill="#1f6fe0"/>
<circle cx="599.1" cy="550.5" r="2.1" fill="#1f6fe0"/>
<circle cx="600.6" cy="550.5" r="2.1" fill="#1f6fe0"/>
<circle cx="602.1" cy="550.6" r="2.1" fill="#1f6fe0"/>
<circle cx="603.7" cy="550.6" r="2.1" fill="#1f6fe0"/>
<circle cx="605.2" cy="550.7" r="2.1" fill="#1f6fe0"/>
<circle cx="606.7" cy="550.8" r="2.1" fill="#1f6fe0"/>
<circle cx="608.2" cy="550.8" r="2.1" fill="#1f6fe0"/>
<circle cx="609.7" cy="550.9" r="2.1" fill="#1f6fe0"/>
<circle cx="611.2" cy="550.9" r="2.1" fill="#1f6fe0"/>
<circle cx="612.7" cy="551.0" r="2.1" fill="#1f6fe0"/>
<circle cx="614.2" cy="551.0" r="2.1" fill="#1f6fe0"/>
<circle cx="615.7" cy="551.1" r="2.1" fill="#1f6fe0"/>
<circle cx="617.2" cy="551.2" r="2.1" fill="#1f6fe0"/>
<circle cx="618.7" cy="551.2" r="2.1" fill="#1f6fe0"/>
</svg></body></html>
